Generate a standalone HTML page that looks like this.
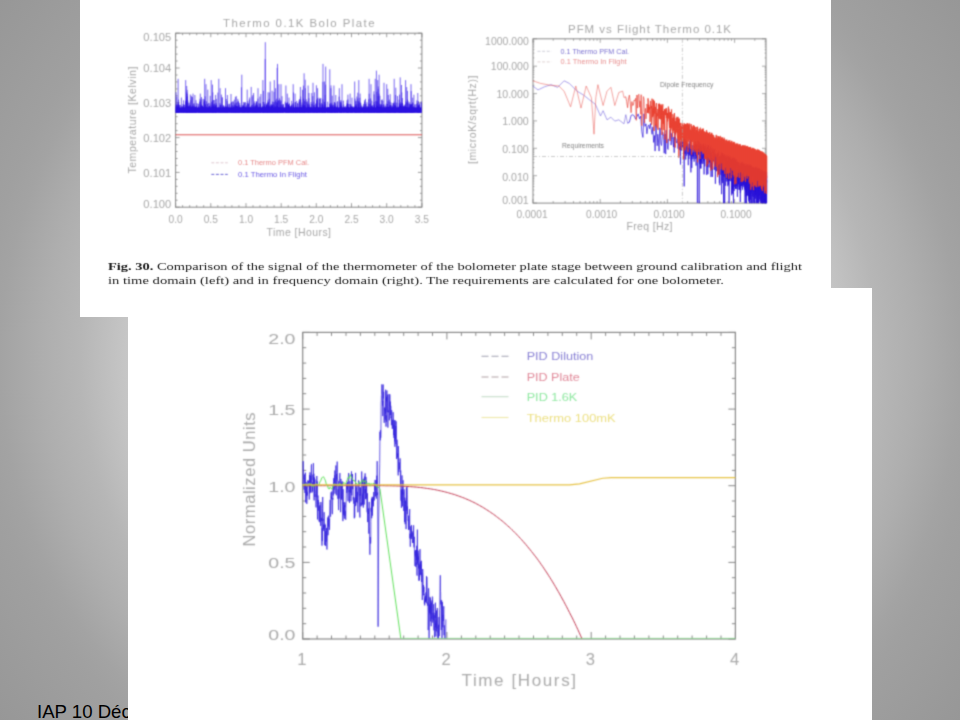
<!DOCTYPE html>
<html lang="fr">
<head>
<meta charset="utf-8">
<title>IAP 10 Déc</title>
<style>
html,body{margin:0;padding:0;}
body{width:960px;height:720px;overflow:hidden;position:relative;
  font-family:"Liberation Sans",sans-serif;
  background:radial-gradient(circle 600px at 480px 360px, #e6e6e6 0px, #d6d6d6 300px, #c4c4c4 359px, #b6b6b6 400px, #aeaeae 437px, #a3a3a3 480px, #a0a0a0 500px, #979797 600px);}
.box{position:absolute;background:#fff;}
#top{left:80px;top:0;width:751px;height:317px;}
#bot{left:128px;top:288px;width:744px;height:432px;}
#foot{position:absolute;left:37px;top:701.4px;width:91px;height:19px;overflow:hidden;white-space:nowrap;
  font-size:18.6px;line-height:22px;color:#000;}
svg{position:absolute;left:0;top:0;}
.cap{font-family:"Liberation Serif",serif;font-size:11.2px;fill:#1a1a1a;}
.cap b, .capb{font-weight:bold;}
.ax{font-family:"Liberation Sans",sans-serif;fill:#a8a8a8;}
.ax2{font-family:"Liberation Sans",sans-serif;fill:#aaaaaa;}
</style>
</head>
<body>
<div id="foot">IAP 10 Déc</div>
<div class="box" id="top"></div>
<div class="box" id="bot"></div>
<svg width="960" height="720" viewBox="0 0 960 720">

<defs>
<filter id="fs" filterUnits="userSpaceOnUse" x="0" y="0" width="960" height="720" color-interpolation-filters="sRGB"><feConvolveMatrix order="3" kernelMatrix="0.0400 0.1200 0.0400 0.1200 0.3600 0.1200 0.0400 0.1200 0.0400" divisor="1" edgeMode="none" preserveAlpha="false"/></filter>
<filter id="fc" filterUnits="userSpaceOnUse" x="0" y="0" width="960" height="720" color-interpolation-filters="sRGB"><feConvolveMatrix order="3" kernelMatrix="0.0121 0.0858 0.0121 0.0858 0.6084 0.0858 0.0121 0.0858 0.0121" divisor="1" edgeMode="none" preserveAlpha="false"/></filter>
<filter id="fb" filterUnits="userSpaceOnUse" x="0" y="0" width="960" height="720" color-interpolation-filters="sRGB"><feConvolveMatrix order="5" kernelMatrix="0.0001 0.0015 0.0046 0.0015 0.0001 0.0015 0.0396 0.1167 0.0396 0.0015 0.0046 0.1167 0.3441 0.1167 0.0046 0.0015 0.0396 0.1167 0.0396 0.0015 0.0001 0.0015 0.0046 0.0015 0.0001" divisor="1" edgeMode="none" preserveAlpha="false"/></filter>
</defs>
<g filter="url(#fs)">
<rect x="175.6" y="33.2" width="246.3" height="174.0" fill="none" stroke="#888888" stroke-width="1"/>
<path d="M175.6,207.2v-4M175.6,33.2v4M182.6,207.2v-2M182.6,33.2v2M189.7,207.2v-2M189.7,33.2v2M196.7,207.2v-2M196.7,33.2v2M203.7,207.2v-2M203.7,33.2v2M210.8,207.2v-4M210.8,33.2v4M217.8,207.2v-2M217.8,33.2v2M224.9,207.2v-2M224.9,33.2v2M231.9,207.2v-2M231.9,33.2v2M238.9,207.2v-2M238.9,33.2v2M246.0,207.2v-4M246.0,33.2v4M253.0,207.2v-2M253.0,33.2v2M260.0,207.2v-2M260.0,33.2v2M267.1,207.2v-2M267.1,33.2v2M274.1,207.2v-2M274.1,33.2v2M281.2,207.2v-4M281.2,33.2v4M288.2,207.2v-2M288.2,33.2v2M295.2,207.2v-2M295.2,33.2v2M302.3,207.2v-2M302.3,33.2v2M309.3,207.2v-2M309.3,33.2v2M316.3,207.2v-4M316.3,33.2v4M323.4,207.2v-2M323.4,33.2v2M330.4,207.2v-2M330.4,33.2v2M337.5,207.2v-2M337.5,33.2v2M344.5,207.2v-2M344.5,33.2v2M351.5,207.2v-4M351.5,33.2v4M358.6,207.2v-2M358.6,33.2v2M365.6,207.2v-2M365.6,33.2v2M372.6,207.2v-2M372.6,33.2v2M379.7,207.2v-2M379.7,33.2v2M386.7,207.2v-4M386.7,33.2v4M393.8,207.2v-2M393.8,33.2v2M400.8,207.2v-2M400.8,33.2v2M407.8,207.2v-2M407.8,33.2v2M414.9,207.2v-2M414.9,33.2v2M421.9,207.2v-4M421.9,33.2v4M175.6,207.2h4M421.9,207.2h-4M175.6,200.2h2M421.9,200.2h-2M175.6,193.3h2M421.9,193.3h-2M175.6,186.3h2M421.9,186.3h-2M175.6,179.4h2M421.9,179.4h-2M175.6,172.4h4M421.9,172.4h-4M175.6,165.4h2M421.9,165.4h-2M175.6,158.5h2M421.9,158.5h-2M175.6,151.5h2M421.9,151.5h-2M175.6,144.6h2M421.9,144.6h-2M175.6,137.6h4M421.9,137.6h-4M175.6,130.6h2M421.9,130.6h-2M175.6,123.7h2M421.9,123.7h-2M175.6,116.7h2M421.9,116.7h-2M175.6,109.8h2M421.9,109.8h-2M175.6,102.8h4M421.9,102.8h-4M175.6,95.8h2M421.9,95.8h-2M175.6,88.9h2M421.9,88.9h-2M175.6,81.9h2M421.9,81.9h-2M175.6,75.0h2M421.9,75.0h-2M175.6,68.0h4M421.9,68.0h-4M175.6,61.0h2M421.9,61.0h-2M175.6,54.1h2M421.9,54.1h-2M175.6,47.1h2M421.9,47.1h-2M175.6,40.2h2M421.9,40.2h-2M175.6,33.2h4M421.9,33.2h-4" stroke="#888888" stroke-width="0.8" fill="none"/>
<path d="M178.1,112.8V78.8M176.8,112.8V96.8M176.0,112.8V92.3M175.8,112.8V107.4M185.7,112.8V80.1M187.2,112.8V93.8M186.8,112.8V92.3M186.8,112.8V97.6M193.0,112.8V93.6M192.3,112.8V106.6M194.9,112.8V95.0M195.5,112.8V107.4M200.3,112.8V93.6M200.0,112.8V98.8M204.7,112.8V78.8M204.0,112.8V99.1M206.0,112.8V84.2M205.1,112.8V96.3M211.2,112.8V80.1M212.5,112.8V84.6M212.8,112.8V92.3M213.1,112.8V107.4M218.8,112.8V78.8M217.9,112.8V92.6M220.1,112.8V88.2M221.4,112.8V94.6M225.5,112.8V88.2M225.6,112.8V105.7M227.4,112.8V95.0M228.0,112.8V107.4M237.2,112.8V101.8M236.2,112.8V107.4M241.8,112.8V74.7M241.4,112.8V87.3M247.2,112.8V89.6M246.8,112.8V107.4M251.2,112.8V86.9M252.1,112.8V96.5M252.9,112.8V95.0M253.1,112.8V104.0M258.0,112.8V88.2M257.9,112.8V98.6M262.9,112.8V80.1M263.4,112.8V90.8M265.3,112.8V42.2M265.2,112.8V59.1M268.0,112.8V92.3M267.8,112.8V107.4M270.2,112.8V81.5M269.2,112.8V98.8M274.3,112.8V80.1M274.0,112.8V91.8M275.6,112.8V88.2M276.1,112.8V101.6M277.5,112.8V63.9M277.2,112.8V67.9M278.9,112.8V84.2M277.6,112.8V100.9M281.0,112.8V84.2M281.1,112.8V100.7M285.9,112.8V85.5M287.4,112.8V101.8M287.3,112.8V93.6M285.8,112.8V103.2M293.2,112.8V84.2M293.5,112.8V92.4M295.1,112.8V93.6M296.6,112.8V107.4M299.5,112.8V99.1M300.6,112.8V107.4M304.1,112.8V73.3M305.2,112.8V79.7M305.4,112.8V88.2M304.8,112.8V100.6M308.1,112.8V85.5M308.9,112.8V98.3M313.0,112.8V82.8M311.8,112.8V93.0M314.4,112.8V92.3M313.8,112.8V101.7M317.6,112.8V88.2M316.5,112.8V99.7M323.0,112.8V63.9M322.9,112.8V81.8M324.4,112.8V81.5M325.3,112.8V94.9M325.7,112.8V66.6M325.6,112.8V84.6M329.8,112.8V69.3M331.0,112.8V85.4M330.9,112.8V88.2M331.8,112.8V107.4M333.9,112.8V85.5M332.4,112.8V105.3M335.8,112.8V95.0M335.0,112.8V107.4M339.3,112.8V88.2M340.2,112.8V105.1M342.0,112.8V84.2M340.9,112.8V100.0M350.1,112.8V93.6M348.7,112.8V104.1M352.0,112.8V97.7M353.0,112.8V107.4M354.7,112.8V81.5M355.0,112.8V98.6M358.8,112.8V80.1M359.8,112.8V97.8M360.1,112.8V93.6M358.5,112.8V105.2M364.5,112.8V101.8M364.3,112.8V106.8M369.1,112.8V78.8M369.2,112.8V93.7M371.0,112.8V84.2M372.0,112.8V105.1M376.4,112.8V70.6M375.2,112.8V78.8M377.7,112.8V80.1M378.2,112.8V86.5M379.1,112.8V74.7M378.2,112.8V89.0M384.0,112.8V82.8M382.9,112.8V100.9M386.7,112.8V84.2M387.8,112.8V88.8M388.3,112.8V95.0M388.4,112.8V107.4M394.2,112.8V78.8M395.8,112.8V87.7M395.6,112.8V95.0M394.5,112.8V107.4M400.2,112.8V77.4M401.5,112.8V85.0M401.8,112.8V92.3M401.6,112.8V107.4M405.6,112.8V80.1M406.7,112.8V87.1M407.5,112.8V90.9M408.0,112.8V107.4M411.0,112.8V84.2M411.2,112.8V91.1M412.7,112.8V97.7M411.2,112.8V106.8" stroke="#4028ea" stroke-width="1.0" fill="none" opacity="0.7"/>
<path d="M374.3,112.8V104.8M187.1,112.8V102.3M178.1,112.8V106.5M264.8,112.8V107.2M191.7,112.8V107.3M212.8,112.8V106.8M181.8,112.8V106.4M304.8,112.8V101.5M347.0,112.8V105.2M280.9,112.8V104.6M209.1,112.8V106.0M257.4,112.8V106.1M320.9,112.8V104.5M406.8,112.8V102.5M419.6,112.8V106.7M235.4,112.8V105.3M178.7,112.8V103.7M379.9,112.8V95.8M403.4,112.8V106.3M288.6,112.8V105.6M365.3,112.8V104.4M388.6,112.8V106.8M325.6,112.8V104.0M390.2,112.8V94.2M182.0,112.8V106.3M242.7,112.8V105.0M244.1,112.8V106.9M205.7,112.8V104.8M399.5,112.8V94.6M183.6,112.8V104.6M341.1,112.8V106.5M193.6,112.8V106.1M264.6,112.8V103.9M278.7,112.8V100.4M220.6,112.8V105.2M303.9,112.8V105.0M307.3,112.8V101.4M253.9,112.8V107.0M356.9,112.8V96.5M215.4,112.8V105.1M223.3,112.8V105.9M263.1,112.8V102.0M268.9,112.8V106.3M226.7,112.8V106.8M401.5,112.8V106.3M379.2,112.8V103.4M202.3,112.8V107.0M266.7,112.8V105.2M233.2,112.8V106.4M286.7,112.8V104.6M243.9,112.8V106.9M299.2,112.8V102.0M402.4,112.8V98.1M269.9,112.8V106.0M335.6,112.8V105.8M322.2,112.8V104.1M360.6,112.8V102.6M191.2,112.8V107.2M358.8,112.8V103.4M408.2,112.8V101.3M324.2,112.8V101.7M246.6,112.8V105.3M341.0,112.8V101.2M350.8,112.8V104.5M337.1,112.8V106.7M212.1,112.8V106.2M414.9,112.8V104.2M410.5,112.8V104.5M280.3,112.8V101.6M321.7,112.8V102.9M185.8,112.8V106.5M418.6,112.8V105.6M376.9,112.8V102.0M332.2,112.8V105.2M362.8,112.8V106.5M222.2,112.8V97.4M251.6,112.8V105.3M236.5,112.8V106.1M322.3,112.8V104.8M198.6,112.8V106.1M395.8,112.8V106.3M289.5,112.8V103.5M285.2,112.8V101.7M201.8,112.8V105.5M344.1,112.8V106.8M376.5,112.8V105.1M330.5,112.8V105.6M235.5,112.8V105.3M368.8,112.8V106.4M211.8,112.8V102.1M379.0,112.8V106.6M318.5,112.8V107.3M247.1,112.8V103.1M302.0,112.8V102.5M330.4,112.8V106.4M239.5,112.8V106.7M383.8,112.8V104.3M279.4,112.8V98.3M395.0,112.8V106.3M381.0,112.8V104.6M200.5,112.8V106.3M334.6,112.8V102.5M252.3,112.8V105.1M361.1,112.8V105.7M309.2,112.8V103.6M288.3,112.8V104.7M395.7,112.8V106.6M190.1,112.8V105.5M312.8,112.8V96.1M256.5,112.8V101.6M184.8,112.8V104.8M360.9,112.8V103.5M313.9,112.8V106.8M395.4,112.8V105.5M322.9,112.8V99.3M258.8,112.8V106.6M417.8,112.8V93.0M204.5,112.8V100.6M189.0,112.8V103.2M355.8,112.8V105.7M267.1,112.8V107.1M264.8,112.8V106.1M391.1,112.8V102.5M256.4,112.8V105.4M394.2,112.8V101.6M334.1,112.8V106.5M256.8,112.8V101.2M190.7,112.8V100.3M236.2,112.8V102.8M413.7,112.8V106.6M275.5,112.8V106.5M215.4,112.8V107.2M249.2,112.8V107.2M396.8,112.8V102.6M216.6,112.8V105.0M366.9,112.8V102.2M209.2,112.8V106.2M411.9,112.8V105.9M306.2,112.8V99.3M186.7,112.8V86.0M404.5,112.8V107.0M264.0,112.8V102.0M355.5,112.8V104.5M304.6,112.8V107.4M198.8,112.8V103.9M202.1,112.8V106.2M212.7,112.8V105.8M215.6,112.8V94.9M189.0,112.8V102.5M187.6,112.8V107.2M408.7,112.8V103.3M198.5,112.8V107.4M300.8,112.8V99.6M205.2,112.8V104.1M228.8,112.8V103.8M363.3,112.8V107.3M406.2,112.8V107.1M291.3,112.8V104.7M177.5,112.8V105.7M421.2,112.8V101.3M187.8,112.8V106.2M271.6,112.8V105.6M308.3,112.8V106.9M394.8,112.8V104.9M378.0,112.8V96.2M325.6,112.8V106.3M273.9,112.8V101.8M380.8,112.8V106.8M389.3,112.8V99.6M390.0,112.8V104.8M352.1,112.8V106.9M200.1,112.8V101.9M249.3,112.8V99.5M295.3,112.8V106.8M300.0,112.8V107.0M380.4,112.8V106.4M234.4,112.8V104.8M339.1,112.8V96.6M267.9,112.8V100.3M366.3,112.8V106.0M224.1,112.8V107.3M293.0,112.8V104.1M201.5,112.8V104.3M228.1,112.8V106.4M405.5,112.8V104.1M253.6,112.8V93.0M395.1,112.8V106.8M304.7,112.8V106.0M185.7,112.8V100.6M370.6,112.8V106.8M188.8,112.8V106.9M378.9,112.8V106.7M178.3,112.8V102.1M341.5,112.8V106.9M216.7,112.8V107.1M260.2,112.8V103.9M409.8,112.8V102.2M295.4,112.8V102.3M337.4,112.8V105.4M357.8,112.8V98.5M203.1,112.8V106.8M381.9,112.8V105.3M400.3,112.8V105.7M214.2,112.8V104.6M310.1,112.8V106.6M245.6,112.8V106.8M357.8,112.8V92.7M183.0,112.8V106.1M301.8,112.8V104.9M370.6,112.8V98.5M356.3,112.8V106.1M202.6,112.8V105.8M380.4,112.8V104.4M234.4,112.8V107.1M374.3,112.8V107.3M298.0,112.8V103.8M215.6,112.8V105.7M356.2,112.8V107.1M374.3,112.8V106.2M347.5,112.8V103.1M412.8,112.8V102.3M238.9,112.8V104.9M233.9,112.8V106.5M212.2,112.8V100.8M308.4,112.8V106.6M274.1,112.8V102.3M263.6,112.8V106.8M289.0,112.8V97.6M243.4,112.8V102.1M177.1,112.8V104.9M291.8,112.8V105.3M243.8,112.8V104.3M286.4,112.8V103.5M404.0,112.8V104.5M220.0,112.8V103.1M332.5,112.8V107.1M334.2,112.8V105.5M245.1,112.8V102.4M291.6,112.8V105.3M413.9,112.8V94.7M260.1,112.8V104.7M350.8,112.8V106.1M382.2,112.8V99.4M264.6,112.8V105.4M418.9,112.8V104.6M329.6,112.8V103.7M299.0,112.8V100.4M351.5,112.8V106.6M280.1,112.8V99.9M350.8,112.8V104.3M243.5,112.8V105.8M403.5,112.8V105.9M309.0,112.8V93.0M235.4,112.8V96.8M283.3,112.8V104.6M395.7,112.8V105.9M374.1,112.8V94.3M294.9,112.8V107.3M262.4,112.8V107.2M268.4,112.8V105.0M416.8,112.8V104.2M203.6,112.8V107.4M394.2,112.8V106.7M386.5,112.8V107.1M231.1,112.8V106.4M261.8,112.8V106.7M315.8,112.8V106.9M372.9,112.8V106.9M409.2,112.8V105.7M419.4,112.8V106.9M245.1,112.8V102.1M223.3,112.8V105.5M295.7,112.8V107.0M312.9,112.8V103.6M337.2,112.8V101.8M202.5,112.8V105.8M334.7,112.8V107.4M402.1,112.8V103.6M400.6,112.8V102.4M407.6,112.8V99.5M402.3,112.8V102.9M411.8,112.8V104.1M188.0,112.8V105.9M400.8,112.8V106.4M242.6,112.8V107.2M254.8,112.8V101.2M288.6,112.8V104.4M410.4,112.8V106.2M324.5,112.8V106.9M262.6,112.8V106.2M267.9,112.8V102.3M398.1,112.8V106.5M377.8,112.8V107.2M209.8,112.8V105.7M237.1,112.8V105.9M267.3,112.8V103.1M229.3,112.8V104.5M314.3,112.8V105.1M231.0,112.8V94.0M317.1,112.8V100.7M405.7,112.8V106.9M384.3,112.8V106.4M200.4,112.8V105.4M226.9,112.8V107.1M277.3,112.8V102.3M334.6,112.8V102.1M270.9,112.8V106.2M237.8,112.8V98.9M260.6,112.8V104.5M226.1,112.8V106.5M387.5,112.8V103.9M347.1,112.8V103.4M276.9,112.8V102.8M347.9,112.8V94.6M303.6,112.8V98.6M305.2,112.8V105.5M266.2,112.8V105.4M295.9,112.8V107.3M417.8,112.8V105.5M368.5,112.8V106.7M379.1,112.8V106.9M206.6,112.8V101.3M299.8,112.8V107.3M266.1,112.8V106.9M197.9,112.8V103.5M273.1,112.8V104.4M194.3,112.8V105.4M233.5,112.8V101.5M372.0,112.8V106.4M344.4,112.8V106.6M347.5,112.8V104.8M195.6,112.8V107.0M216.3,112.8V103.2M181.4,112.8V97.6M200.0,112.8V101.4M200.9,112.8V99.7M411.6,112.8V107.1M395.4,112.8V105.4M226.2,112.8V99.0M238.4,112.8V100.8M411.8,112.8V104.2M315.9,112.8V103.6M266.5,112.8V106.3M290.5,112.8V106.3M242.9,112.8V107.2M319.3,112.8V99.0M354.0,112.8V106.2M302.5,112.8V89.8M377.4,112.8V107.4M203.9,112.8V101.6M324.2,112.8V104.7M418.8,112.8V107.2M212.7,112.8V103.5M297.5,112.8V103.0M330.7,112.8V103.1M258.9,112.8V103.1M412.7,112.8V103.3M295.2,112.8V102.1M293.5,112.8V105.7M397.5,112.8V96.0M180.0,112.8V105.0M389.2,112.8V106.3M207.8,112.8V89.6M269.1,112.8V106.2M295.9,112.8V105.3M293.0,112.8V103.1M185.8,112.8V101.6M253.9,112.8V106.0M263.6,112.8V107.3M410.7,112.8V104.3M401.0,112.8V104.2M319.4,112.8V102.7M405.1,112.8V106.3M388.0,112.8V101.2M268.3,112.8V102.0M204.8,112.8V100.3M325.0,112.8V102.3M255.3,112.8V103.4M178.5,112.8V104.5M416.8,112.8V100.4M413.9,112.8V106.5M307.8,112.8V103.5M327.7,112.8V101.7M340.2,112.8V102.0M403.4,112.8V106.9M290.8,112.8V106.0M319.1,112.8V97.7M231.7,112.8V102.0M235.6,112.8V106.8M304.2,112.8V105.0M232.3,112.8V101.4M183.5,112.8V100.3M266.5,112.8V104.8M360.1,112.8V107.0M244.1,112.8V106.5M387.7,112.8V107.3M348.4,112.8V106.7M336.4,112.8V107.2M395.0,112.8V103.1M194.2,112.8V103.1M220.0,112.8V105.3M399.1,112.8V99.7M398.6,112.8V106.8M195.3,112.8V106.6M366.0,112.8V104.0M179.9,112.8V104.7M209.3,112.8V106.9M203.0,112.8V98.9M248.2,112.8V103.9M271.3,112.8V104.0M399.5,112.8V105.7M283.1,112.8V104.0M206.5,112.8V107.1M242.9,112.8V106.1M177.7,112.8V103.8M183.0,112.8V104.1M281.8,112.8V104.7M301.7,112.8V107.2M237.4,112.8V106.0M269.3,112.8V92.4M201.5,112.8V97.1M337.7,112.8V101.2M272.4,112.8V107.2M215.7,112.8V107.1M298.1,112.8V106.5M227.2,112.8V101.1M247.8,112.8V106.6M206.6,112.8V106.5M367.6,112.8V106.3M244.6,112.8V102.6M410.5,112.8V104.7M275.6,112.8V100.3M214.2,112.8V107.1M349.1,112.8V107.2M356.0,112.8V100.7M392.3,112.8V107.0M208.4,112.8V102.9M369.9,112.8V104.1M387.0,112.8V106.6M250.8,112.8V106.3M287.6,112.8V102.6M328.1,112.8V107.3M236.3,112.8V96.2M389.8,112.8V107.2M347.6,112.8V106.8M386.2,112.8V103.7M286.5,112.8V107.0M303.4,112.8V85.6M223.8,112.8V105.4M253.1,112.8V107.1M355.0,112.8V106.8M411.3,112.8V104.6M213.4,112.8V100.0M188.5,112.8V106.3M192.6,112.8V105.6M282.9,112.8V104.4M370.5,112.8V103.6M231.3,112.8V102.8M293.1,112.8V106.0M302.5,112.8V105.7M381.6,112.8V100.0M216.3,112.8V98.9M179.7,112.8V105.5M300.4,112.8V87.0M263.2,112.8V106.7M247.8,112.8V101.2M365.5,112.8V98.8M343.8,112.8V104.4M196.7,112.8V103.2M310.5,112.8V107.2M371.8,112.8V100.7M399.2,112.8V103.3M176.1,112.8V104.3M374.2,112.8V104.3M186.7,112.8V106.8M343.4,112.8V100.6M322.8,112.8V104.7M409.6,112.8V104.0M331.1,112.8V106.7M193.3,112.8V103.8M340.5,112.8V106.4M238.6,112.8V102.2M380.2,112.8V107.3M183.8,112.8V106.9M255.6,112.8V106.5M342.0,112.8V105.6M214.3,112.8V100.0M334.6,112.8V107.4M347.1,112.8V104.5M356.1,112.8V107.3M390.8,112.8V105.7M277.4,112.8V106.1M211.1,112.8V106.8M240.0,112.8V105.1M271.7,112.8V105.9M189.5,112.8V106.3M349.9,112.8V104.0M191.6,112.8V106.4M190.3,112.8V94.5M404.8,112.8V106.4M373.9,112.8V91.3M238.3,112.8V106.8M259.9,112.8V96.6M378.7,112.8V107.2M328.0,112.8V107.4M241.1,112.8V107.0M286.2,112.8V103.0M386.0,112.8V106.4M176.3,112.8V106.2M419.5,112.8V103.4M314.9,112.8V107.3M220.7,112.8V104.6M372.4,112.8V105.6M194.8,112.8V106.8M276.7,112.8V98.7M316.7,112.8V105.8M236.7,112.8V106.2M393.2,112.8V103.1M347.0,112.8V100.4M215.8,112.8V106.5M213.5,112.8V106.9M191.3,112.8V95.8M316.3,112.8V105.4M222.0,112.8V104.6M309.3,112.8V105.2M377.1,112.8V101.1M391.8,112.8V105.4M204.6,112.8V102.3M257.6,112.8V104.7M278.5,112.8V107.1M270.2,112.8V104.8M278.8,112.8V100.4M288.9,112.8V104.7M361.7,112.8V105.6M251.0,112.8V107.3M260.3,112.8V103.1M271.8,112.8V105.6M213.2,112.8V106.0M330.7,112.8V105.7M274.3,112.8V105.5M400.8,112.8V105.9M377.6,112.8V106.2M232.6,112.8V105.2M235.5,112.8V107.2M368.0,112.8V106.5M313.4,112.8V105.3M178.6,112.8V99.6M330.6,112.8V105.4M273.0,112.8V104.5M368.7,112.8V99.3M359.3,112.8V101.5M402.3,112.8V102.9M347.6,112.8V103.9M400.1,112.8V104.1M245.9,112.8V106.6M259.2,112.8V106.9M190.6,112.8V107.2M388.8,112.8V107.0M213.9,112.8V104.0M311.3,112.8V104.0M301.0,112.8V107.3M375.8,112.8V100.8M271.3,112.8V105.3M211.1,112.8V104.6M270.1,112.8V107.1M187.9,112.8V100.4M250.1,112.8V107.1M330.6,112.8V106.5M190.1,112.8V105.1M418.9,112.8V104.9M307.6,112.8V104.7M249.7,112.8V97.5M380.6,112.8V107.3M209.8,112.8V103.3M255.1,112.8V105.4M406.0,112.8V101.4M235.0,112.8V103.4M355.9,112.8V101.4M196.0,112.8V100.2M306.7,112.8V101.9M337.5,112.8V106.9M227.5,112.8V104.6M256.5,112.8V102.1M311.1,112.8V102.0M320.8,112.8V98.0M213.9,112.8V105.5M276.9,112.8V107.4M421.3,112.8V102.7M255.2,112.8V106.2M368.7,112.8V103.6M225.6,112.8V107.2M289.2,112.8V105.8M303.2,112.8V103.8M322.3,112.8V106.9M352.1,112.8V106.0M371.3,112.8V106.8M347.9,112.8V99.4M374.1,112.8V102.0M393.4,112.8V103.7M256.1,112.8V104.8M379.0,112.8V93.7M303.7,112.8V106.3M239.7,112.8V103.0M218.6,112.8V107.1M363.6,112.8V103.9M332.3,112.8V106.6M193.5,112.8V107.4M320.2,112.8V98.8M187.0,112.8V106.2M272.1,112.8V90.7M316.2,112.8V103.3M335.6,112.8V103.4M214.8,112.8V103.4M187.1,112.8V89.9M317.4,112.8V106.5M376.9,112.8V91.6M371.5,112.8V106.0M264.3,112.8V107.0M317.6,112.8V98.2M352.4,112.8V107.0M390.3,112.8V105.1M296.7,112.8V100.9M390.9,112.8V106.2M254.0,112.8V102.8M229.9,112.8V103.7M248.2,112.8V103.2M355.1,112.8V106.8M393.2,112.8V103.0M291.7,112.8V100.8M346.8,112.8V106.9M210.2,112.8V95.8M300.6,112.8V96.5M282.8,112.8V106.0M282.0,112.8V96.2M222.2,112.8V97.4M328.9,112.8V107.0M341.0,112.8V102.5M332.2,112.8V95.6M358.3,112.8V101.2M288.5,112.8V106.9M385.2,112.8V105.5M316.2,112.8V104.4M392.4,112.8V105.7M276.7,112.8V105.6M347.8,112.8V107.0M224.4,112.8V107.4M196.5,112.8V106.1M404.6,112.8V105.4M267.1,112.8V104.3M187.3,112.8V96.2M327.8,112.8V107.1M405.0,112.8V105.9M364.7,112.8V100.1M418.3,112.8V101.1M405.5,112.8V107.0M287.8,112.8V103.3M233.5,112.8V107.1M192.1,112.8V96.9M242.9,112.8V106.3M331.2,112.8V104.0M399.5,112.8V105.1M176.5,112.8V104.8M376.6,112.8V106.5M363.6,112.8V105.8M345.6,112.8V106.2M207.5,112.8V104.0M189.2,112.8V105.4M356.8,112.8V104.2M333.4,112.8V104.6M266.8,112.8V103.5M260.9,112.8V94.0M184.1,112.8V104.7M419.8,112.8V104.6M381.3,112.8V104.0M415.1,112.8V104.5M376.8,112.8V105.5M288.7,112.8V106.4M383.4,112.8V104.6M224.8,112.8V106.4M341.1,112.8V103.5M234.3,112.8V99.6M272.4,112.8V101.6M389.9,112.8V101.8M280.3,112.8V106.5M395.3,112.8V107.3M323.2,112.8V106.6M248.2,112.8V104.4M240.0,112.8V106.9M176.9,112.8V107.0M316.4,112.8V85.3M381.8,112.8V105.8M231.2,112.8V107.2M293.7,112.8V104.8M417.4,112.8V103.1M272.6,112.8V105.2M406.3,112.8V106.9M378.9,112.8V104.8M297.4,112.8V107.1M332.0,112.8V102.7M192.2,112.8V97.3" stroke="#2a10e0" stroke-width="0.8" fill="none" opacity="0.8"/>
<rect x="176.1" y="107.4" width="245.3" height="5.4" fill="#2a10e0"/>
<path d="M175.6,134.8H421.9" stroke="#d84040" stroke-width="0.9" fill="none"/>
<path d="M211.3,162.8h16.5" stroke="#dcc4cc" stroke-width="0.9" stroke-dasharray="3 1.6" fill="none"/>
<path d="M211.3,174.4h16.5" stroke="#5a54d0" stroke-width="0.9" stroke-dasharray="3 1.6" fill="none"/>
<text x="238" y="165" font-size="7" fill="#e68888" textLength="71" lengthAdjust="spacingAndGlyphs" font-family="Liberation Sans, sans-serif">0.1 Thermo PFM Cal.</text>
<text x="238" y="176.8" font-size="7" fill="#6a5ae4" textLength="69" lengthAdjust="spacingAndGlyphs" font-family="Liberation Sans, sans-serif">0.1 Thermo In Flight</text>
<text class="ax" x="223" y="27.2" font-size="11.4" textLength="151.5" lengthAdjust="spacing">Thermo 0.1K Bolo Plate</text>
<text class="ax" x="143.3" y="40.5" font-size="10.2" textLength="28" lengthAdjust="spacingAndGlyphs">0.105</text>
<text class="ax" x="143.3" y="72.4" font-size="10.2" textLength="28" lengthAdjust="spacingAndGlyphs">0.104</text>
<text class="ax" x="143.3" y="106.9" font-size="10.2" textLength="28" lengthAdjust="spacingAndGlyphs">0.103</text>
<text class="ax" x="143.3" y="141.7" font-size="10.2" textLength="28" lengthAdjust="spacingAndGlyphs">0.102</text>
<text class="ax" x="143.3" y="176.7" font-size="10.2" textLength="28" lengthAdjust="spacingAndGlyphs">0.101</text>
<text class="ax" x="143.3" y="208.1" font-size="10.2" textLength="28" lengthAdjust="spacingAndGlyphs">0.100</text>
<text class="ax" x="175.6" y="222.5" font-size="10.2" text-anchor="middle">0.0</text>
<text class="ax" x="210.8" y="222.5" font-size="10.2" text-anchor="middle">0.5</text>
<text class="ax" x="246.0" y="222.5" font-size="10.2" text-anchor="middle">1.0</text>
<text class="ax" x="281.2" y="222.5" font-size="10.2" text-anchor="middle">1.5</text>
<text class="ax" x="316.3" y="222.5" font-size="10.2" text-anchor="middle">2.0</text>
<text class="ax" x="351.5" y="222.5" font-size="10.2" text-anchor="middle">2.5</text>
<text class="ax" x="386.7" y="222.5" font-size="10.2" text-anchor="middle">3.0</text>
<text class="ax" x="421.9" y="222.5" font-size="10.2" text-anchor="middle">3.5</text>
<text class="ax" x="266.5" y="236" font-size="10.5" textLength="64.5" lengthAdjust="spacing">Time [Hours]</text>
<text class="ax" transform="translate(135.5,173.6) rotate(-90)" font-size="10.5" textLength="107" lengthAdjust="spacing">Temperature [Kelvin]</text>
</g>
<g filter="url(#fs)">
<rect x="533.0" y="38.8" width="233.0" height="164.3" fill="none" stroke="#888888" stroke-width="1"/>
<path d="M533.0,203.1v-4M533.0,38.8v4M553.2,203.1v-2M553.2,38.8v2M565.1,203.1v-2M565.1,38.8v2M573.5,203.1v-2M573.5,38.8v2M580.0,203.1v-2M580.0,38.8v2M585.3,203.1v-2M585.3,38.8v2M589.8,203.1v-2M589.8,38.8v2M593.7,203.1v-2M593.7,38.8v2M597.1,203.1v-2M597.1,38.8v2M600.2,203.1v-4M600.2,38.8v4M620.4,203.1v-2M620.4,38.8v2M632.3,203.1v-2M632.3,38.8v2M640.7,203.1v-2M640.7,38.8v2M647.2,203.1v-2M647.2,38.8v2M652.5,203.1v-2M652.5,38.8v2M657.0,203.1v-2M657.0,38.8v2M660.9,203.1v-2M660.9,38.8v2M664.3,203.1v-2M664.3,38.8v2M667.4,203.1v-4M667.4,38.8v4M687.6,203.1v-2M687.6,38.8v2M699.5,203.1v-2M699.5,38.8v2M707.9,203.1v-2M707.9,38.8v2M714.4,203.1v-2M714.4,38.8v2M719.7,203.1v-2M719.7,38.8v2M724.2,203.1v-2M724.2,38.8v2M728.1,203.1v-2M728.1,38.8v2M731.5,203.1v-2M731.5,38.8v2M734.6,203.1v-4M734.6,38.8v4M754.8,203.1v-2M754.8,38.8v2M533.0,203.1h4M766.0,203.1h-4M533.0,194.9h1.3M766.0,194.9h-1.3M533.0,190.0h1.3M766.0,190.0h-1.3M533.0,186.6h1.3M766.0,186.6h-1.3M533.0,184.0h1.3M766.0,184.0h-1.3M533.0,181.8h1.3M766.0,181.8h-1.3M533.0,180.0h1.3M766.0,180.0h-1.3M533.0,178.4h1.3M766.0,178.4h-1.3M533.0,177.0h1.3M766.0,177.0h-1.3M533.0,175.7h4M766.0,175.7h-4M533.0,167.5h1.3M766.0,167.5h-1.3M533.0,162.7h1.3M766.0,162.7h-1.3M533.0,159.2h1.3M766.0,159.2h-1.3M533.0,156.6h1.3M766.0,156.6h-1.3M533.0,154.4h1.3M766.0,154.4h-1.3M533.0,152.6h1.3M766.0,152.6h-1.3M533.0,151.0h1.3M766.0,151.0h-1.3M533.0,149.6h1.3M766.0,149.6h-1.3M533.0,148.3h4M766.0,148.3h-4M533.0,140.1h1.3M766.0,140.1h-1.3M533.0,135.3h1.3M766.0,135.3h-1.3M533.0,131.8h1.3M766.0,131.8h-1.3M533.0,129.2h1.3M766.0,129.2h-1.3M533.0,127.0h1.3M766.0,127.0h-1.3M533.0,125.2h1.3M766.0,125.2h-1.3M533.0,123.6h1.3M766.0,123.6h-1.3M533.0,122.2h1.3M766.0,122.2h-1.3M533.0,120.9h4M766.0,120.9h-4M533.0,112.7h1.3M766.0,112.7h-1.3M533.0,107.9h1.3M766.0,107.9h-1.3M533.0,104.5h1.3M766.0,104.5h-1.3M533.0,101.8h1.3M766.0,101.8h-1.3M533.0,99.6h1.3M766.0,99.6h-1.3M533.0,97.8h1.3M766.0,97.8h-1.3M533.0,96.2h1.3M766.0,96.2h-1.3M533.0,94.8h1.3M766.0,94.8h-1.3M533.0,93.6h4M766.0,93.6h-4M533.0,85.3h1.3M766.0,85.3h-1.3M533.0,80.5h1.3M766.0,80.5h-1.3M533.0,77.1h1.3M766.0,77.1h-1.3M533.0,74.4h1.3M766.0,74.4h-1.3M533.0,72.3h1.3M766.0,72.3h-1.3M533.0,70.4h1.3M766.0,70.4h-1.3M533.0,68.8h1.3M766.0,68.8h-1.3M533.0,67.4h1.3M766.0,67.4h-1.3M533.0,66.2h4M766.0,66.2h-4M533.0,57.9h1.3M766.0,57.9h-1.3M533.0,53.1h1.3M766.0,53.1h-1.3M533.0,49.7h1.3M766.0,49.7h-1.3M533.0,47.0h1.3M766.0,47.0h-1.3M533.0,44.9h1.3M766.0,44.9h-1.3M533.0,43.0h1.3M766.0,43.0h-1.3M533.0,41.5h1.3M766.0,41.5h-1.3M533.0,40.1h1.3M766.0,40.1h-1.3M533.0,38.8h4M766.0,38.8h-4" stroke="#888888" stroke-width="0.7" fill="none"/>
<polyline points="532.8,86.0 538.0,89.9 544.5,86.8 551.0,84.7 557.6,87.3 564.1,80.8 569.3,83.4 577.1,91.2 583.6,95.1 590.1,100.3 595.3,104.2 600.5,115.9 603.1,110.7 607.0,119.8 610.9,117.2 614.8,121.1 618.8,119.8 624.0,123.8 625.8,114.7 627.6,123.2" fill="none" stroke="#5a4ad8" stroke-width="0.6" stroke-linejoin="round" opacity="0.85"/>
<polyline points="627.6,123.2 629.4,122.2 631.1,115.4 632.6,114.8 634.1,115.7 635.6,119.1 636.9,116.7 638.2,113.9 639.5,118.8 640.7,116.1 641.8,131.6 642.9,137.4 644.0,113.8 645.0,126.3 646.0,123.9 646.9,133.8 647.9,126.5 648.8,124.9 649.6,128.7 650.5,123.6 651.3,129.9 652.1,134.3 652.9,126.9 653.6,142.4 654.4,135.5 655.1,151.1 655.8,124.4 656.5,130.7 657.2,145.8 657.8,134.2 658.5,141.0 659.1,151.1 659.7,127.9 660.3,129.4 660.9,143.5 661.5,145.5 662.0,139.6 662.6,131.9 663.1,133.9 663.7,136.6 664.2,153.2 664.7,134.6 665.2,134.0 665.7,154.1 666.2,130.3 666.7,139.1 667.2,139.6 667.6,148.8 668.1,149.5 668.5,139.3 669.0,139.5 669.4,138.6 669.9,129.7 670.3,129.6 670.7,132.9 671.1,145.1 671.5,139.3 671.9,133.3 672.3,137.2 672.7,139.6 673.1,144.0 673.5,147.1 673.9,137.0 674.2,152.7 674.6,132.4 675.0,139.6 675.3,137.0 675.7,139.6 676.0,141.5 676.4,142.6 676.7,143.0 677.1,138.6 677.4,138.9 677.7,139.4 678.0,148.6 678.4,142.8 678.7,145.9 679.0,144.6 679.3,143.8 679.6,150.0 679.9,146.4 680.2,142.5 680.5,164.5 680.8,141.7 681.1,140.4 681.4,150.5 681.7,146.6 682.0,141.6 682.3,140.2 682.5,147.5 682.8,143.5 683.1,140.2 683.4,146.8 683.6,149.4 683.9,138.6 684.2,186.4 684.4,140.0 684.7,153.5 684.9,152.5 685.2,153.9 685.4,140.5 685.7,159.5 685.9,147.6 686.2,141.3 686.4,140.9 686.7,155.6 686.9,148.2 687.2,143.6 687.4,148.8 687.6,144.6 687.9,154.0 688.1,147.5 688.3,165.2 688.5,148.0 688.8,159.0 689.0,143.7 689.2,148.1 689.4,147.9 689.7,154.9 689.9,140.5 690.1,155.9 690.3,154.7 690.5,146.4 690.7,139.6 690.9,172.4 691.1,151.5 691.4,160.5 691.6,149.1 691.8,167.9 692.0,145.1 692.2,145.6 692.4,152.9 692.6,156.3 692.8,152.8 693.0,159.0 693.1,152.6 693.3,151.8 693.5,156.6 693.7,151.1 693.9,145.3 694.1,161.6 694.3,144.4 694.5,152.5 694.7,149.2 694.8,146.6 695.0,157.8 695.2,159.0 695.4,141.6 695.6,155.6 695.7,152.4 695.9,148.4 696.1,165.6 696.3,145.7 696.4,158.3 696.6,144.1 696.8,150.8 696.9,148.8 697.1,152.8 697.3,149.2 697.4,202.8 697.6,167.0 697.8,160.8 697.9,141.1 698.1,144.3 698.3,149.6 698.4,154.8 698.6,147.8 698.8,151.3 698.9,142.2 699.1,152.9 699.2,203.1 699.4,148.8 699.5,144.6 699.7,149.2 699.8,163.8 700.0,152.2 700.2,161.0 700.3,152.3 700.5,145.7 700.6,168.3 700.8,143.2 700.9,168.5 701.1,146.4 701.2,162.7 701.3,150.9 701.5,150.4 701.6,145.4 701.8,158.4 701.9,163.8 702.1,155.4 702.2,154.9 702.4,158.8 702.5,156.8 702.6,156.1 702.8,146.1 702.9,155.1 703.0,163.8 703.2,143.6 703.3,147.1 703.5,157.7 703.6,144.1 703.7,148.8 703.9,161.3 704.0,153.5 704.1,174.4 704.3,149.2 704.4,150.7 704.5,146.1 704.7,159.9 704.8,166.4 704.9,147.7 705.0,149.9 705.2,158.6 705.3,145.8 705.4,144.5 705.6,150.3 705.7,151.3 705.8,154.1 705.9,154.2 706.1,150.6 706.2,152.2 706.3,149.5 706.4,148.7 706.5,159.5 706.7,174.9 706.8,152.8 706.9,147.4 707.0,161.0 707.1,162.1 707.3,147.4 707.4,158.3 707.5,166.7 707.6,152.2 707.7,160.0 707.9,174.2 708.0,144.6 708.1,150.6 708.2,145.9 708.3,149.5 708.4,145.1 708.6,146.5 708.7,157.3 708.8,151.2 708.9,163.0 709.0,152.1 709.1,167.4 709.2,148.8 709.3,155.8 709.4,151.7 709.6,161.9 709.7,152.5 709.8,161.0 709.9,155.3 710.0,151.3 710.1,160.4 710.2,160.2 710.3,146.0 710.4,145.8 710.5,167.9 710.6,152.8 710.7,152.4 710.9,152.1 711.0,176.9 711.1,161.7 711.2,152.1 711.3,160.3 711.4,159.3 711.5,156.9 711.6,159.6 711.7,169.1 711.8,155.6 711.9,156.2 712.0,147.6 712.1,151.8 712.2,170.0 712.3,159.4 712.4,176.9 712.5,157.5 712.6,162.2 712.7,158.5 712.8,158.6 712.9,150.3 713.0,152.4 713.1,149.5 713.2,157.0 713.3,160.9 713.4,152.2 713.5,155.1 713.6,157.6 713.7,161.4 713.8,158.9 713.9,159.9 713.9,159.2 714.0,155.4 714.1,154.7 714.2,158.6 714.3,162.7 714.4,170.0 714.5,165.3 714.6,158.6 714.7,165.3 714.8,149.1 714.9,164.4 715.0,153.1 715.1,161.5 715.2,165.5 715.2,155.1 715.3,156.5 715.4,183.8 715.5,154.2 715.6,163.6 715.7,156.7 715.8,155.4 715.9,164.1 716.0,157.6 716.0,162.6 716.1,154.1 716.2,166.1 716.3,162.9 716.4,158.6 716.5,165.1 716.6,171.2 716.7,165.1 716.7,155.6 716.8,163.2 716.9,161.0 717.0,167.2 717.1,157.5 717.2,158.3 717.3,155.3 717.3,154.6 717.4,159.7 717.5,163.1 717.6,163.5 717.7,155.9 717.8,153.0 717.8,170.9 717.9,158.4 718.0,154.4 718.1,153.3 718.2,164.1 718.3,171.4 718.3,152.0 718.4,151.5 718.5,156.3 718.6,161.2 718.7,173.9 718.7,161.3 718.8,170.8 718.9,162.8 719.0,174.9 719.1,168.9 719.1,157.9 719.2,167.6 719.3,156.4 719.4,183.1 719.5,158.6 719.5,161.3 719.6,163.1 719.7,157.4 719.8,169.9 719.8,185.2 719.9,161.7 720.0,156.1 720.1,157.2 720.2,167.9 720.2,161.7 720.3,161.5 720.4,155.0 720.5,165.7 720.5,155.2 720.6,155.8 720.7,162.4 720.8,163.1 720.8,156.0 720.9,174.8 721.0,165.2 721.1,167.9 721.1,167.2 721.2,161.6 721.3,163.6 721.4,152.2 721.4,162.8 721.5,163.3 721.6,194.2 721.6,156.6 721.7,158.6 721.8,180.6 721.9,157.9 721.9,165.5 722.0,157.8 722.1,162.9 722.2,171.2 722.2,169.0 722.3,153.1 722.4,160.5 722.4,160.1 722.5,173.0 722.6,153.4 722.6,161.2 722.7,183.1 722.8,153.6 722.9,165.2 722.9,166.8 723.0,155.4 723.1,158.3 723.1,161.7 723.2,165.3 723.3,175.8 723.3,166.5 723.4,155.6 723.5,203.1 723.5,159.0 723.6,160.8 723.7,164.6 723.8,162.4 723.8,163.1 723.9,176.9 724.0,160.7 724.0,162.9 724.1,157.7 724.2,154.1 724.2,163.0 724.3,156.0 724.4,166.1 724.4,158.5 724.5,162.9 724.6,170.0 724.6,166.6 724.7,203.1 724.8,166.4 724.8,160.1 724.9,174.7 724.9,160.0 725.0,165.1 725.1,162.2 725.1,155.2 725.2,161.6 725.3,164.8 725.3,162.8 725.4,177.2 725.5,173.5 725.5,168.5 725.6,185.7 725.7,161.0 725.7,164.3 725.8,157.3 725.8,165.1 725.9,157.5 726.0,173.9 726.0,171.4 726.1,162.1 726.2,155.8 726.2,159.2 726.3,164.9 726.3,165.8 726.4,178.9 726.5,174.7 726.5,166.1 726.6,157.4 726.7,171.3 726.7,164.3 726.8,181.5 726.8,156.5 726.9,161.6 727.0,169.0 727.0,166.9 727.1,178.6 727.1,169.2 727.2,161.8 727.3,162.2 727.3,176.1 727.4,171.2 727.4,163.2 727.5,172.7 727.6,179.4 727.6,161.8 727.7,162.2 727.7,164.0 727.8,186.2 727.9,155.3 727.9,163.3 728.0,171.3 728.0,181.1 728.1,169.9 728.1,162.2 728.2,156.4 728.3,169.1 728.3,173.6 728.4,184.7 728.4,159.0 728.5,166.4 728.6,161.2 728.6,175.0 728.7,157.9 728.7,159.7 728.8,157.7 728.8,161.7 728.9,180.7 729.0,162.8 729.0,166.1 729.1,163.4 729.1,203.1 729.2,169.4 729.2,173.3 729.3,159.0 729.3,179.1 729.4,161.6 729.5,168.8 729.5,162.0 729.6,168.1 729.6,156.9 729.7,163.6 729.7,180.9 729.8,159.5 729.8,163.3 729.9,178.9 730.0,156.0 730.0,173.6 730.1,173.6 730.1,171.6 730.2,175.7 730.2,163.7 730.3,162.4 730.3,168.3 730.4,162.4 730.4,161.7 730.5,158.1 730.5,163.4 730.6,160.2 730.7,171.3 730.7,170.5 730.8,175.0 730.8,181.2 730.9,161.8 730.9,171.4 731.0,161.0 731.0,164.1 731.1,168.3 731.1,168.5 731.2,168.6 731.2,168.6 731.3,162.1 731.3,170.4 731.4,176.1 731.4,160.8 731.5,158.8 731.6,193.6 731.6,164.8 731.7,169.4 731.7,195.3 731.8,176.3 731.8,158.9 731.9,173.2 731.9,165.9 732.0,163.5 732.0,160.6 732.1,168.2 732.1,167.8 732.2,176.7 732.2,175.3 732.3,166.0 732.3,189.5 732.4,189.3 732.4,160.3 732.5,173.4 732.5,168.5 732.6,157.6 732.6,181.5 732.7,171.8 732.7,164.8 732.8,186.9 732.8,193.6 732.9,168.4 732.9,158.0 733.0,161.3 733.0,170.1 733.1,172.7 733.1,157.6 733.2,188.5 733.2,167.7 733.3,161.0 733.3,160.0 733.4,194.2 733.4,195.5 733.5,203.1 733.5,165.5 733.6,160.7 733.6,163.2 733.7,164.5 733.7,171.0 733.7,178.9 733.8,169.6 733.8,175.1 733.9,167.9 733.9,168.1 734.0,157.6 734.0,169.9 734.1,171.2 734.1,191.0 734.2,166.9 734.2,171.1 734.3,166.3 734.3,163.0 734.4,161.7 734.4,160.7 734.5,163.2 734.5,166.3 734.6,159.9 734.6,158.2 734.6,174.3 734.7,186.7 734.7,164.5 734.8,166.2 734.8,180.8 734.9,166.2 734.9,167.7 735.0,160.4 735.0,168.0 735.1,172.1 735.1,164.4 735.2,167.3 735.2,160.3 735.2,169.9 735.3,172.1 735.3,159.2 735.4,167.7 735.4,161.0 735.5,188.9 735.5,167.1 735.6,168.1 735.6,168.0 735.7,181.7 735.7,170.8 735.7,185.6 735.8,175.6 735.8,188.4 735.9,175.6 735.9,176.2 736.0,170.0 736.0,168.6 736.1,166.9 736.1,168.6 736.1,160.6 736.2,164.7 736.2,175.1 736.3,186.0 736.3,159.2 736.4,159.4 736.4,181.9 736.5,176.9 736.5,172.0 736.5,183.0 736.6,173.3 736.6,165.7 736.7,183.1 736.7,166.0 736.8,189.1 736.8,162.8 736.8,183.3 736.9,170.6 736.9,171.9 737.0,163.9 737.0,167.2 737.1,168.8 737.1,166.1 737.1,174.0 737.2,183.9 737.2,177.6 737.3,163.6 737.3,169.0 737.4,196.8 737.4,168.3 737.4,178.2 737.5,161.8 737.5,172.8 737.6,163.4 737.6,181.4 737.7,167.4 737.7,167.6 737.7,162.2 737.8,161.8 737.8,171.1 737.9,169.8 737.9,166.7 737.9,186.9 738.0,168.2 738.0,172.7 738.1,165.0 738.1,169.3 738.2,183.3 738.2,167.7 738.2,170.0 738.3,166.0 738.3,166.5 738.4,167.6 738.4,165.4 738.4,175.2 738.5,176.3 738.5,184.4 738.6,170.7 738.6,173.7 738.6,170.4 738.7,165.6 738.7,166.4 738.8,165.1 738.8,162.0 738.9,173.5 738.9,189.6 738.9,165.4 739.0,162.8 739.0,167.6 739.1,172.6 739.1,167.1 739.1,168.3 739.2,169.1 739.2,168.6 739.3,168.4 739.3,167.7 739.3,169.1 739.4,173.6 739.4,174.9 739.5,167.2 739.5,175.7 739.5,169.8 739.6,169.0 739.6,182.3 739.6,189.8 739.7,172.8 739.7,165.5 739.8,167.4 739.8,169.4 739.8,172.0 739.9,174.7 739.9,178.2 740.0,173.9 740.0,172.0 740.0,171.8 740.1,171.5 740.1,176.1 740.2,189.8 740.2,164.8 740.2,166.1 740.3,166.0 740.3,179.0 740.3,202.0 740.4,177.0 740.4,192.9 740.5,172.0 740.5,168.3 740.5,174.2 740.6,171.0 740.6,167.6 740.7,163.1 740.7,165.6 740.7,191.1 740.8,167.7 740.8,174.8 740.8,187.7 740.9,171.9 740.9,166.9 741.0,173.1 741.0,167.6 741.0,173.0 741.1,185.5 741.1,181.3 741.1,172.2 741.2,164.6 741.2,178.9 741.3,176.4 741.3,171.4 741.3,174.1 741.4,182.0 741.4,178.3 741.4,173.8 741.5,186.0 741.5,166.7 741.5,173.0 741.6,172.7 741.6,174.5 741.7,166.3 741.7,163.4 741.7,161.8 741.8,170.2 741.8,172.2 741.8,162.3 741.9,171.3 741.9,172.2 742.0,163.4 742.0,181.5 742.0,164.2 742.1,166.0 742.1,168.6 742.1,173.2 742.2,168.3 742.2,171.7 742.2,171.8 742.3,167.7 742.3,168.8 742.3,181.9 742.4,168.6 742.4,182.1 742.5,189.7 742.5,176.8 742.5,170.3 742.6,186.0 742.6,166.6 742.6,184.0 742.7,177.3 742.7,173.1 742.7,179.9 742.8,168.7 742.8,165.2 742.8,161.8 742.9,169.2 742.9,170.1 742.9,175.8 743.0,165.9 743.0,169.8 743.1,170.7 743.1,180.8 743.1,167.6 743.2,171.7 743.2,176.6 743.2,166.7 743.3,166.7 743.3,169.3 743.3,176.5 743.4,171.8 743.4,169.2 743.4,169.8 743.5,185.3 743.5,172.4 743.5,167.2 743.6,165.7 743.6,178.3 743.6,164.5 743.7,167.5 743.7,184.1 743.7,165.8 743.8,173.6 743.8,171.3 743.8,177.7 743.9,175.5 743.9,187.2 743.9,182.2 744.0,167.3 744.0,169.9 744.1,164.6 744.1,182.7 744.1,169.4 744.2,183.2 744.2,163.9 744.2,170.0 744.3,169.9 744.3,172.0 744.3,171.3 744.4,178.8 744.4,177.4 744.4,175.5 744.5,183.2 744.5,165.9 744.5,173.3 744.6,171.0 744.6,189.7 744.6,165.7 744.7,167.4 744.7,171.5 744.7,164.8 744.8,171.4 744.8,168.8 744.8,188.0 744.9,172.7 744.9,163.5 744.9,175.0 744.9,177.9 745.0,186.2 745.0,179.3 745.0,203.1 745.1,167.0 745.1,184.3 745.1,166.3 745.2,182.8 745.2,172.4 745.2,178.6 745.3,181.4 745.3,178.9 745.3,173.6 745.4,170.8 745.4,179.0 745.4,190.4 745.5,181.3 745.5,172.7 745.5,168.6 745.6,192.5 745.6,175.9 745.6,174.5 745.7,174.3 745.7,178.0 745.7,172.8 745.8,179.8 745.8,196.3 745.8,184.1 745.9,169.7 745.9,168.4 745.9,203.1 745.9,166.0 746.0,181.5 746.0,172.9 746.0,175.4 746.1,171.3 746.1,170.7 746.1,184.4 746.2,175.3 746.2,168.9 746.2,166.8 746.3,164.0 746.3,174.9 746.3,171.0 746.4,176.6 746.4,169.0 746.4,179.4 746.4,185.4 746.5,176.3 746.5,171.9 746.5,203.1 746.6,170.6 746.6,167.4 746.6,165.1 746.7,176.5 746.7,169.3 746.7,192.9 746.8,177.9 746.8,176.2 746.8,176.0 746.9,174.7 746.9,166.4 746.9,190.1 746.9,173.3 747.0,176.2 747.0,174.8 747.0,173.2 747.1,169.3 747.1,174.8 747.1,177.0 747.2,170.9 747.2,177.0 747.2,167.0 747.2,177.1 747.3,179.0 747.3,195.0 747.3,177.9 747.4,187.9 747.4,168.9 747.4,181.4 747.5,176.8 747.5,183.5 747.5,165.9 747.5,174.0 747.6,168.2 747.6,168.5 747.6,170.2 747.7,166.4 747.7,167.1 747.7,178.0 747.8,174.6 747.8,196.1 747.8,164.4 747.8,174.0 747.9,180.1 747.9,175.2 747.9,169.0 748.0,164.2 748.0,178.1 748.0,180.2 748.1,165.7 748.1,172.6 748.1,170.2 748.1,173.0 748.2,179.6 748.2,174.5 748.2,171.5 748.3,177.4 748.3,175.1 748.3,183.1 748.3,168.2 748.4,172.7 748.4,175.7 748.4,170.9 748.5,175.0 748.5,166.1 748.5,166.8 748.5,173.1 748.6,174.3 748.6,195.6 748.6,176.7 748.7,177.2 748.7,175.7 748.7,201.5 748.8,182.5 748.8,199.5 748.8,180.4 748.8,175.0 748.9,179.8 748.9,175.2 748.9,171.9 749.0,169.6 749.0,175.7 749.0,167.2 749.0,179.4 749.1,171.5 749.1,197.6 749.1,171.4 749.2,182.1 749.2,178.2 749.2,168.9 749.2,165.6 749.3,180.9 749.3,180.0 749.3,176.3 749.3,173.4 749.4,173.1 749.4,174.9 749.4,164.7 749.5,184.5 749.5,172.6 749.5,169.7 749.5,168.1 749.6,203.1 749.6,172.5 749.6,176.0 749.7,168.9 749.7,165.9 749.7,171.1 749.7,196.8 749.8,178.4 749.8,164.8 749.8,196.9 749.9,176.4 749.9,203.1 749.9,185.7 749.9,167.4 750.0,178.8 750.0,181.9 750.0,177.9 750.0,169.3 750.1,171.6 750.1,167.4 750.1,174.6 750.2,173.7 750.2,179.4 750.2,173.1 750.2,176.0 750.3,178.9 750.3,169.6 750.3,167.7 750.3,195.8 750.4,165.5 750.4,172.4 750.4,199.7 750.5,182.7 750.5,188.4 750.5,173.1 750.5,186.7 750.6,176.6 750.6,168.6 750.6,172.6 750.6,172.0 750.7,192.8 750.7,168.3 750.7,177.5 750.8,174.7 750.8,169.8 750.8,165.2 750.8,173.6 750.9,182.9 750.9,191.9 750.9,175.2 750.9,183.8 751.0,183.1 751.0,170.5 751.0,192.1 751.0,175.6 751.1,176.7 751.1,203.1 751.1,171.7 751.2,193.2 751.2,177.6 751.2,182.5 751.2,181.9 751.3,170.6 751.3,169.7 751.3,171.6 751.3,174.1 751.4,169.1 751.4,172.9 751.4,172.5 751.4,185.3 751.5,167.9 751.5,178.1 751.5,177.3 751.5,186.3 751.6,165.5 751.6,172.8 751.6,180.9 751.7,176.4 751.7,173.7 751.7,187.8 751.7,167.1 751.8,203.1 751.8,168.2 751.8,179.2 751.8,179.0 751.9,184.0 751.9,184.8 751.9,179.9 751.9,168.8 752.0,175.0 752.0,174.0 752.0,169.9 752.0,175.3 752.1,179.9 752.1,174.5 752.1,188.0 752.1,186.3 752.2,203.1 752.2,174.2 752.2,170.1 752.2,179.4 752.3,181.0 752.3,175.1 752.3,180.1 752.3,182.4 752.4,180.4 752.4,184.6 752.4,175.3 752.4,173.3 752.5,196.4 752.5,187.2 752.5,186.3 752.5,183.7 752.6,168.4 752.6,173.7 752.6,170.7 752.6,166.8 752.7,176.3 752.7,182.7 752.7,172.3 752.7,174.2 752.8,172.1 752.8,175.0 752.8,177.5 752.8,172.2 752.9,179.4 752.9,189.3 752.9,168.2 752.9,178.9 753.0,176.1 753.0,177.9 753.0,182.1 753.0,178.1 753.1,175.3 753.1,176.7 753.1,169.3 753.1,182.8 753.2,178.9 753.2,192.0 753.2,173.0 753.2,176.9 753.3,168.5 753.3,170.4 753.3,182.0 753.3,172.1 753.4,172.9 753.4,172.9 753.4,170.4 753.4,172.7 753.5,187.8 753.5,178.1 753.5,191.3 753.5,187.1 753.6,171.1 753.6,188.1 753.6,185.0 753.6,178.5 753.7,203.1 753.7,177.5 753.7,167.1 753.7,174.0 753.8,179.8 753.8,178.3 753.8,172.3 753.8,171.2 753.9,177.0 753.9,187.6 753.9,175.3 753.9,196.9 754.0,188.5 754.0,175.4 754.0,184.2 754.0,178.1 754.0,173.6 754.1,196.6 754.1,175.4 754.1,175.0 754.1,172.5 754.2,185.4 754.2,177.5 754.2,167.7 754.2,201.3 754.3,174.0 754.3,175.1 754.3,175.4 754.3,174.4 754.4,188.1 754.4,182.9 754.4,169.2 754.4,168.2 754.5,178.2 754.5,172.5 754.5,177.9 754.5,183.6 754.5,180.2 754.6,173.8 754.6,178.6 754.6,183.9 754.6,176.5 754.7,203.1 754.7,192.0 754.7,171.0 754.7,171.3 754.8,203.1 754.8,167.7 754.8,179.6 754.8,171.1 754.9,183.9 754.9,170.1 754.9,189.9 754.9,179.2 754.9,184.5 755.0,170.1 755.0,176.8 755.0,175.3 755.0,185.0 755.1,175.4 755.1,168.6 755.1,180.5 755.1,178.8 755.2,177.0 755.2,171.5 755.2,176.3 755.2,183.5 755.2,178.6 755.3,191.5 755.3,179.7 755.3,172.9 755.3,180.8 755.4,198.7 755.4,176.4 755.4,173.9 755.4,167.0 755.5,167.3 755.5,169.7 755.5,174.5 755.5,177.8 755.5,177.4 755.6,185.3 755.6,173.9 755.6,179.5 755.6,174.9 755.7,174.1 755.7,171.1 755.7,187.8 755.7,177.9 755.7,169.4 755.8,193.1 755.8,183.2 755.8,177.4 755.8,177.5 755.9,193.7 755.9,172.4 755.9,184.7 755.9,194.2 756.0,176.3 756.0,194.6 756.0,172.1 756.0,172.3 756.0,173.0 756.1,186.1 756.1,169.7 756.1,177.5 756.1,166.8 756.2,170.3 756.2,174.0 756.2,195.5 756.2,187.8 756.2,180.3 756.3,194.1 756.3,188.2 756.3,196.6 756.3,179.6 756.4,203.1 756.4,184.4 756.4,191.0 756.4,191.9 756.4,171.7 756.5,171.7 756.5,172.1 756.5,190.0 756.5,173.8 756.6,191.5 756.6,175.2 756.6,173.0 756.6,171.9 756.6,177.7 756.7,170.9 756.7,188.2 756.7,185.9 756.7,185.8 756.7,203.1 756.8,186.1 756.8,173.3 756.8,170.1 756.8,167.6 756.9,183.9 756.9,173.8 756.9,182.6 756.9,170.6 756.9,176.6 757.0,170.4 757.0,170.6 757.0,189.2 757.0,172.8 757.1,183.5 757.1,179.2 757.1,177.7 757.1,168.6 757.1,173.0 757.2,172.7 757.2,183.3 757.2,177.6 757.2,169.9 757.2,173.6 757.3,181.8 757.3,181.7 757.3,173.1 757.3,171.7 757.4,175.8 757.4,173.0 757.4,177.4 757.4,170.1 757.4,176.2 757.5,175.0 757.5,198.1 757.5,176.6 757.5,176.7 757.5,195.4 757.6,175.5 757.6,171.6 757.6,172.5 757.6,185.4 757.7,197.1 757.7,174.0 757.7,178.1 757.7,188.9 757.7,200.4 757.8,193.2 757.8,173.4 757.8,203.0 757.8,170.8 757.8,179.9 757.9,168.5 757.9,181.9 757.9,168.2 757.9,175.6 757.9,181.1 758.0,169.1 758.0,171.7 758.0,203.1 758.0,172.2 758.1,192.6 758.1,170.4 758.1,181.4 758.1,187.1 758.1,179.9 758.2,180.4 758.2,203.1 758.2,176.2 758.2,170.0 758.2,184.5 758.3,192.6 758.3,179.4 758.3,181.3 758.3,176.5 758.3,178.0 758.4,182.2 758.4,172.2 758.4,180.8 758.4,178.3 758.4,177.9 758.5,187.7 758.5,203.1 758.5,175.5 758.5,174.1 758.6,178.2 758.6,183.0 758.6,183.5 758.6,175.0 758.6,177.7 758.7,168.1 758.7,172.9 758.7,176.4 758.7,174.1 758.7,196.4 758.8,179.3 758.8,187.4 758.8,179.4 758.8,186.1 758.8,173.3 758.9,184.9 758.9,178.0 758.9,174.4 758.9,169.5 758.9,180.7 759.0,173.9 759.0,195.3 759.0,170.9 759.0,185.4 759.0,175.9 759.1,201.8 759.1,180.0 759.1,188.4 759.1,179.7 759.1,177.4 759.2,168.3 759.2,182.0 759.2,176.7 759.2,176.8 759.2,190.2 759.3,174.0 759.3,184.2 759.3,178.5 759.3,188.6 759.3,181.9 759.4,172.5 759.4,182.1 759.4,183.4 759.4,183.8 759.4,199.3 759.5,174.5 759.5,178.6 759.5,187.9 759.5,169.3 759.5,178.1 759.6,176.1 759.6,183.6 759.6,180.0 759.6,176.7 759.6,183.3 759.7,175.0 759.7,180.9 759.7,170.4 759.7,177.9 759.7,176.7 759.8,176.5 759.8,185.4 759.8,184.4 759.8,177.4 759.8,177.6 759.9,184.6 759.9,177.5 759.9,176.4 759.9,168.8 759.9,188.5 760.0,173.9 760.0,174.2 760.0,173.9 760.0,190.8 760.0,174.7 760.1,170.3 760.1,195.4 760.1,181.8 760.1,172.2 760.1,177.6 760.2,173.8 760.2,177.3 760.2,175.9 760.2,177.7 760.2,175.3 760.2,179.8 760.3,186.2 760.3,178.4 760.3,179.3 760.3,183.2 760.3,172.0 760.4,182.8 760.4,200.3 760.4,172.4 760.4,184.6 760.4,203.1 760.5,190.4 760.5,176.9 760.5,180.8 760.5,176.9 760.5,197.9 760.6,175.1 760.6,176.3 760.6,174.7 760.6,189.8 760.6,179.9 760.7,177.2 760.7,182.0 760.7,181.3 760.7,187.5 760.7,179.9 760.7,189.7 760.8,174.3 760.8,172.9 760.8,191.0 760.8,200.2 760.8,201.0 760.9,188.1 760.9,174.1 760.9,181.5 760.9,186.8 760.9,187.1 761.0,182.8 761.0,181.3 761.0,185.2 761.0,174.7 761.0,177.8 761.1,185.4 761.1,182.5 761.1,176.1 761.1,180.0 761.1,182.8 761.1,198.0 761.2,183.5 761.2,180.5 761.2,187.4 761.2,187.3 761.2,180.4 761.3,179.9 761.3,178.7 761.3,188.0 761.3,182.3 761.3,179.5 761.4,175.8 761.4,171.9 761.4,169.3 761.4,187.0 761.4,176.0 761.4,178.7 761.5,177.8 761.5,185.2 761.5,175.2 761.5,174.8 761.5,171.0 761.6,187.2 761.6,203.1 761.6,203.1 761.6,181.1 761.6,177.3 761.6,181.4 761.7,172.7 761.7,173.5 761.7,175.4 761.7,170.6 761.7,195.5 761.8,183.4 761.8,183.5 761.8,183.6 761.8,176.3 761.8,182.0 761.9,185.5 761.9,179.0 761.9,194.0 761.9,178.6 761.9,195.0 761.9,203.1 762.0,176.0 762.0,176.2 762.0,203.1 762.0,203.1 762.0,177.6 762.1,184.8 762.1,179.3 762.1,178.9 762.1,186.7 762.1,171.9 762.1,184.0 762.2,175.3 762.2,177.3 762.2,174.0 762.2,170.1 762.2,175.2 762.3,177.4 762.3,177.3 762.3,171.1 762.3,176.7 762.3,200.8 762.3,180.7 762.4,180.8 762.4,188.3 762.4,176.1 762.4,187.0 762.4,180.6 762.5,179.4 762.5,203.1 762.5,182.5 762.5,182.5 762.5,192.4 762.5,171.4 762.6,180.3 762.6,173.1 762.6,189.7 762.6,201.0 762.6,178.8 762.6,179.9 762.7,174.3 762.7,173.9 762.7,172.1 762.7,172.0 762.7,203.1 762.8,173.6 762.8,173.0 762.8,182.4 762.8,184.2 762.8,173.8 762.8,177.7 762.9,172.2 762.9,181.7 762.9,181.7 762.9,190.9 762.9,203.1 762.9,203.1 763.0,195.2 763.0,183.2 763.0,178.6 763.0,172.8 763.0,172.6 763.1,174.7 763.1,172.7 763.1,197.7 763.1,178.7 763.1,182.8 763.1,175.8 763.2,179.9 763.2,186.4 763.2,180.6 763.2,175.2 763.2,175.7 763.2,181.5 763.3,180.6 763.3,180.9 763.3,189.8 763.3,175.4 763.3,175.2 763.4,203.0 763.4,177.5 763.4,176.5 763.4,179.5 763.4,184.2 763.4,179.8 763.5,184.1 763.5,172.4 763.5,185.1 763.5,171.6 763.5,194.9 763.5,179.6 763.6,174.7 763.6,177.8 763.6,203.1 763.6,182.9 763.6,177.6 763.6,179.8 763.7,188.7 763.7,173.8 763.7,194.8 763.7,171.6 763.7,181.4 763.8,180.6 763.8,175.1 763.8,176.7 763.8,181.8 763.8,183.6 763.8,182.3 763.9,175.3 763.9,178.0 763.9,173.3 763.9,181.3 763.9,177.4 763.9,182.7 764.0,182.7 764.0,176.9 764.0,174.5 764.0,190.2 764.0,194.1 764.0,178.3 764.1,185.2 764.1,175.8 764.1,174.8 764.1,174.0 764.1,173.4 764.1,179.7 764.2,172.3 764.2,192.4 764.2,172.2 764.2,172.3 764.2,176.0 764.2,181.9 764.3,179.0 764.3,180.6 764.3,186.8 764.3,187.4 764.3,189.2 764.3,184.7 764.4,173.4 764.4,173.4 764.4,183.1 764.4,182.9 764.4,190.5 764.4,173.8 764.5,182.5 764.5,186.6 764.5,187.5 764.5,197.4 764.5,178.1 764.5,186.7 764.6,186.7 764.6,189.4 764.6,201.5 764.6,177.9 764.6,192.0 764.6,176.0 764.7,184.0 764.7,203.1 764.7,183.1 764.7,180.2 764.7,180.8 764.7,190.8 764.8,174.1 764.8,176.2 764.8,170.7 764.8,203.1 764.8,182.2 764.8,187.4 764.9,174.5 764.9,177.0 764.9,188.7 764.9,177.8 764.9,184.3 764.9,176.8 765.0,175.3 765.0,197.0 765.0,186.1 765.0,186.5 765.0,201.4 765.0,172.7 765.1,174.6 765.1,181.4 765.1,175.5 765.1,189.5 765.1,179.5 765.1,173.3 765.2,203.1 765.2,174.2 765.2,178.3 765.2,174.5 765.2,178.9 765.2,176.5 765.3,172.4 765.3,184.0 765.3,203.1 765.3,174.3 765.3,177.8 765.3,181.7 765.4,203.1 765.4,176.5 765.4,174.8 765.4,203.1 765.4,174.9 765.4,196.5 765.5,180.2 765.5,181.4 765.5,175.7 765.5,185.0 765.5,178.3 765.5,176.1 765.6,186.5 765.6,182.2 765.6,180.0 765.6,178.6 765.6,181.9 765.6,182.5 765.6,176.9 765.7,197.3 765.7,174.0 765.7,175.9 765.7,175.0 765.7,174.1 765.7,176.9 765.8,203.1 765.8,172.5 765.8,174.9 765.8,190.1 765.8,186.0 765.8,179.5 765.9,189.2 765.9,177.8 765.9,182.5 765.9,180.7 765.9,180.9 765.9,173.1 766.0,203.1 766.0,175.7 766.0,180.9 766.0,183.7 766.0,171.9 766.0,177.7 766.0,178.7 766.1,183.0 766.1,173.6 766.1,174.2 766.1,181.3 766.1,189.3 766.1,177.6 766.2,181.3 766.2,180.9 766.2,186.6 766.2,203.1 766.2,174.8 766.2,203.1 766.3,183.9 766.3,186.8 766.3,191.9 766.3,189.1 766.3,180.5 766.3,191.6 766.3,193.7 766.4,175.1 766.4,174.4 766.4,179.5 766.4,182.0 766.4,194.8 766.4,191.6 766.5,184.3 766.5,173.2 766.5,185.0 766.5,173.4 766.5,174.0 766.5,179.4 766.6,182.6 766.6,175.6 766.6,185.5 766.6,203.1 766.6,179.5 766.6,193.6 766.6,171.9" fill="none" stroke="#2a12d8" stroke-width="0.7" stroke-linejoin="round"/>
<polyline points="532.8,80.8 540.6,83.4 549.7,85.2 558.9,86.0 564.1,91.2 570.6,106.8 575.8,86.0 581.0,108.1 586.2,86.0 591.4,97.7 594.0,134.2 595.8,97.7 597.9,84.7 603.1,105.5 607.0,91.2 610.9,87.3 614.8,105.5 618.8,92.5 622.7,91.2 624.0,97.7 624.8,97.0" fill="none" stroke="#e8504a" stroke-width="0.6" stroke-linejoin="round" opacity="0.85"/>
<polyline points="624.8,97.0 625.8,96.9 626.7,101.7 627.6,107.7 628.5,99.0 629.4,95.1 630.2,101.7 631.1,112.7 631.9,101.6 632.6,105.5 633.4,105.1 634.1,100.0 634.9,100.9 635.6,98.3 636.3,120.3 636.9,95.0 637.6,108.1 638.2,95.2 638.9,94.2 639.5,107.2 640.1,100.9 640.7,114.3 641.2,94.7 641.8,125.7 642.4,112.4 642.9,111.1 643.4,96.6 644.0,99.0 644.5,122.8 645.0,113.0 645.5,108.4 646.0,118.9 646.5,113.6 646.9,104.0 647.6,107.2" fill="none" stroke="#e8443a" stroke-width="0.7" stroke-linejoin="round"/>
<polyline points="647.6,107.2 647.6,113.0 648.0,101.6 648.0,98.4 648.4,102.7 648.4,104.6 648.8,113.4 648.8,104.7 649.2,109.7 649.2,109.7 649.6,108.8 649.6,107.1 650.0,121.4 650.0,121.9 650.4,115.9 650.4,101.0 650.8,101.1 650.8,105.3 651.2,108.2 651.2,106.1 651.6,106.2 651.6,124.7 652.0,117.3 652.0,98.7 652.4,101.9 652.4,108.2 652.8,117.2 652.8,109.0 653.2,107.9 653.2,115.6 653.6,110.4 653.6,99.7 654.0,107.7 654.0,130.9 654.4,104.4 654.4,101.3 654.8,108.8 654.8,113.6 655.2,107.5 655.2,107.0 655.6,108.5 655.6,125.5 656.0,121.0 656.0,107.4 656.4,103.0 656.4,110.8 656.8,127.7 656.8,113.4 657.2,116.1 657.2,116.3 657.6,114.9 657.6,114.8 658.0,109.0 658.0,129.8 658.4,107.0 658.4,103.8 658.8,106.7 658.8,118.4 659.2,118.7 659.2,103.6 659.6,103.9 659.6,107.9 660.0,118.8 660.0,104.6 660.4,106.6 660.4,119.2 660.8,119.2 660.8,113.8 661.2,104.5 661.2,129.6 661.6,120.1 661.6,109.4 662.0,106.1 662.0,134.9 662.4,115.8 662.4,112.5 662.8,104.3 662.8,113.9 663.2,123.8 663.2,111.0 663.6,112.0 663.6,115.9 664.0,130.1 664.0,113.6 664.4,109.0 664.4,119.0 664.8,139.4 664.8,109.4 665.2,111.2 665.2,112.9 665.6,115.1 665.6,112.0 666.0,108.3 666.0,111.3 666.4,118.1 666.4,108.5 666.8,115.7 666.8,143.1 667.2,119.5 667.2,116.6 667.6,113.0 667.6,121.4 668.0,117.5 668.0,111.8 668.4,106.6 668.4,113.7 668.8,118.5 668.8,108.6 669.2,111.6 669.2,122.9 669.6,128.0 669.6,117.6 670.0,112.5 670.0,141.0 670.4,131.9 670.4,112.2 670.8,124.1 670.8,130.5 671.2,126.4 671.2,113.3 671.6,109.4 671.6,128.2 672.0,126.1 672.0,121.7 672.4,118.3 672.4,137.2 672.8,127.8 672.8,114.2 673.2,115.4 673.2,130.0 673.6,130.6 673.6,117.6 674.0,119.0 674.0,132.9 674.4,130.0 674.4,113.0 674.8,118.2 674.8,137.4 675.2,147.5 675.2,122.5 675.6,121.3 675.6,134.4 676.0,130.5 676.0,118.7 676.4,118.0 676.4,123.0 676.8,132.5 676.8,116.8 677.2,117.8 677.2,135.2 677.6,138.5 677.6,120.3 678.0,116.9 678.0,143.4 678.4,128.6 678.4,123.1 678.8,118.5 678.8,157.6 679.2,128.7 679.2,118.7 679.6,124.9 679.6,146.7 680.0,146.3 680.0,123.0 680.4,129.1 680.4,136.7 680.8,140.2 680.8,122.9 681.2,125.4 681.2,137.1 681.6,149.6 681.6,126.3 682.0,126.9 682.0,139.7 682.4,140.6 682.4,128.1 682.8,123.3 682.8,131.5 683.2,142.1 683.2,125.9 683.6,125.2 683.6,159.3 684.0,139.5 684.0,131.9 684.4,123.4 684.4,139.0 684.8,147.7 684.8,127.3 685.2,124.2 685.2,150.3 685.6,144.3 685.6,124.0 686.0,125.8 686.0,146.6 686.4,145.5 686.4,127.6 686.8,123.5 686.8,142.5 687.2,145.4 687.2,125.6 687.6,123.4 687.6,135.0 688.0,152.1 688.0,123.6 688.4,125.3 688.4,139.2 688.8,141.6 688.8,124.8 689.2,126.6 689.2,138.8 689.6,139.8 689.6,123.6 690.0,123.9 690.0,141.7 690.4,149.1 690.4,130.2 690.8,129.5 690.8,145.5 691.2,139.7 691.2,124.2 691.6,129.7 691.6,154.7 692.0,144.6 692.0,125.9 692.4,130.0 692.4,141.7 692.8,140.8 692.8,127.7 693.2,127.7 693.2,150.4 693.6,140.8 693.6,125.0 694.0,129.4 694.0,143.1 694.4,149.4 694.4,126.1 694.8,128.5 694.8,152.3 695.2,151.5 695.2,127.1 695.6,127.7 695.6,147.1 696.0,151.2 696.0,132.7 696.4,130.0 696.4,149.6 696.8,155.2 696.8,126.9 697.2,129.4 697.2,140.1 697.6,162.3 697.6,126.8 698.0,132.9 698.0,149.3 698.4,146.1 698.4,131.3 698.8,131.7 698.8,151.9 699.2,148.5 699.2,129.0 699.6,133.5 699.6,146.2 700.0,159.0 700.0,128.4 700.4,127.7 700.4,149.5 700.8,151.3 700.8,130.6 701.2,131.8 701.2,151.5 701.6,147.2 701.6,129.5 702.0,130.0 702.0,142.3 702.4,151.8 702.4,128.8 702.8,132.0 702.8,153.6 703.2,150.9 703.2,128.6 703.6,133.9 703.6,153.3 704.0,149.2 704.0,131.1 704.4,132.1 704.4,150.2 704.8,159.0 704.8,131.9 705.2,134.0 705.2,149.9 705.6,159.3 705.6,132.3 706.0,131.8 706.0,157.7 706.4,155.8 706.4,130.1 706.8,130.8 706.8,166.4 707.2,148.7 707.2,132.1 707.6,134.7 707.6,147.3 708.0,164.1 708.0,133.3 708.4,132.9 708.4,157.8 708.8,148.2 708.8,133.4 709.2,133.3 709.2,153.8 709.6,160.0 709.6,132.1 710.0,133.3 710.0,160.4 710.4,150.4 710.4,136.0 710.8,134.4 710.8,170.6 711.2,151.7 711.2,134.0 711.6,132.8 711.6,151.3 712.0,162.4 712.0,133.5 712.4,136.7 712.4,164.6 712.8,169.3 712.8,135.1 713.2,135.0 713.2,160.5 713.6,155.6 713.6,135.4 714.0,139.2 714.0,157.2 714.4,164.1 714.4,138.4 714.8,137.3 714.8,166.6 715.2,160.4 715.2,138.0 715.6,138.3 715.6,153.7 716.0,157.1 716.0,134.9 716.4,135.1 716.4,162.6 716.8,167.1 716.8,136.6 717.2,135.9 717.2,163.3 717.6,177.1 717.6,139.0 718.0,137.7 718.0,154.4 718.4,164.6 718.4,136.1 718.8,140.2 718.8,170.8 719.2,174.9 719.2,137.3 719.6,136.9 719.6,163.7 720.0,162.4 720.0,136.1 720.4,136.1 720.4,169.3 720.8,168.0 720.8,140.7 721.2,138.7 721.2,163.2 721.6,163.2 721.6,137.5 722.0,137.4 722.0,165.3 722.4,170.3 722.4,137.6 722.8,141.2 722.8,159.4 723.2,169.7 723.2,139.7 723.6,139.0 723.6,164.7 724.0,170.4 724.0,137.7 724.4,139.5 724.4,159.2 724.8,173.9 724.8,139.4 725.2,139.9 725.2,167.6 725.6,163.8 725.6,142.2 726.0,140.5 726.0,169.8 726.4,177.8 726.4,142.7 726.8,139.6 726.8,166.5 727.2,173.6 727.2,141.2 727.6,141.1 727.6,170.7 728.0,173.1 728.0,141.2 728.4,141.7 728.4,172.8 728.8,178.9 728.8,140.3 729.2,140.9 729.2,166.6 729.6,173.1 729.6,140.8 730.0,140.4 730.0,161.3 730.4,167.9 730.4,142.2 730.8,142.4 730.8,163.5 731.2,178.2 731.2,142.7 731.6,140.9 731.6,169.6 732.0,168.5 732.0,142.7 732.4,143.5 732.4,169.9 732.8,170.8 732.8,141.6 733.2,142.1 733.2,174.9 733.6,170.1 733.6,142.3 734.0,144.1 734.0,176.5 734.4,174.9 734.4,142.2 734.8,142.5 734.8,184.3 735.2,171.9 735.2,144.1 735.6,143.8 735.6,164.4 736.0,183.6 736.0,145.7 736.4,144.1 736.4,177.5 736.8,173.3 736.8,143.4 737.2,146.4 737.2,177.1 737.6,166.0 737.6,143.9 738.0,143.7 738.0,172.9 738.4,169.6 738.4,145.4 738.8,144.7 738.8,171.8 739.2,177.6 739.2,144.5 739.6,145.6 739.6,178.0 740.0,171.0 740.0,144.1 740.4,145.0 740.4,170.8 740.8,172.3 740.8,145.7 741.2,145.8 741.2,182.0 741.6,174.2 741.6,146.6 742.0,146.0 742.0,179.2 742.4,181.7 742.4,146.8 742.8,145.0 742.8,173.8 743.2,169.5 743.2,145.5 743.6,146.2 743.6,180.7 744.0,173.2 744.0,145.8 744.4,145.8 744.4,172.6 744.8,176.7 744.8,145.6 745.2,145.4 745.2,175.9 745.6,181.7 745.6,146.3 746.0,146.7 746.0,175.9 746.4,171.7 746.4,146.4 746.8,146.1 746.8,174.6 747.2,178.7 747.2,146.4 747.6,146.1 747.6,174.0 748.0,176.1 748.0,146.8 748.4,147.0 748.4,174.2 748.8,176.4 748.8,148.3 749.2,147.6 749.2,182.4 749.6,176.3 749.6,147.0 750.0,148.0 750.0,184.1 750.4,181.6 750.4,147.2 750.8,147.1 750.8,189.7 751.2,179.9 751.2,148.6 751.6,148.7 751.6,178.6 752.0,186.7 752.0,150.0 752.4,148.5 752.4,182.3 752.8,174.6 752.8,147.8 753.2,148.9 753.2,175.7 753.6,190.1 753.6,148.7 754.0,148.6 754.0,185.3 754.4,185.5 754.4,148.8 754.8,149.1 754.8,185.1 755.2,184.8 755.2,149.2 755.6,150.3 755.6,183.8 756.0,186.9 756.0,150.8 756.4,149.8 756.4,180.1 756.8,187.2 756.8,151.9 757.2,150.2 757.2,180.9 757.6,179.6 757.6,149.4 758.0,149.5 758.0,181.4 758.4,185.3 758.4,149.9 758.8,150.2 758.8,186.7 759.2,181.2 759.2,150.2 759.6,150.3 759.6,185.6 760.0,182.5 760.0,150.9 760.4,151.4 760.4,185.6 760.8,182.2 760.8,151.0 761.2,152.3 761.2,188.1 761.6,188.6 761.6,152.1 762.0,151.4 762.0,189.3 762.4,191.0 762.4,152.1 762.8,152.6 762.8,187.1 763.2,181.5 763.2,152.4 763.6,152.7 763.6,180.6 764.0,185.5 764.0,153.6 764.4,153.4 764.4,191.4 764.8,193.2 764.8,154.2 765.2,153.9 765.2,190.8 765.6,186.5 765.6,154.4 766.0,154.8 766.0,189.3 766.4,193.9 766.4,155.7 766.8,155.9 766.8,178.4" fill="none" stroke="#e83c2c" stroke-width="0.85" stroke-linejoin="round"/>
<path d="M533.0,156.5H681" stroke="#a8a8a8" stroke-width="0.6" stroke-dasharray="4 2 1 2" fill="none"/>
<path d="M682.4,38.8V203.1" stroke="#a8a8a8" stroke-width="0.6" stroke-dasharray="4 2 1 2" fill="none"/>
<path d="M537.5,51.3h14" stroke="#c4c4d0" stroke-width="0.8" stroke-dasharray="3 1.6" fill="none"/>
<path d="M537.5,61.9h14" stroke="#d8c8c8" stroke-width="0.8" stroke-dasharray="3 1.6" fill="none"/>
<text x="560.6" y="53.8" font-size="7" fill="#7a70d0" textLength="68.5" lengthAdjust="spacingAndGlyphs" font-family="Liberation Sans, sans-serif">0.1 Thermo PFM Cal.</text>
<text x="560.6" y="64.4" font-size="7" fill="#e89090" textLength="66" lengthAdjust="spacingAndGlyphs" font-family="Liberation Sans, sans-serif">0.1 Thermo In Flight</text>
<text x="660" y="87" font-size="7" fill="#848484" textLength="53.5" lengthAdjust="spacingAndGlyphs" font-family="Liberation Sans, sans-serif">Dipole Frequency</text>
<text x="562" y="148.2" font-size="7" fill="#848484" textLength="42" lengthAdjust="spacingAndGlyphs" font-family="Liberation Sans, sans-serif">Requirements</text>
<text class="ax" x="568" y="32.5" font-size="11.5" textLength="163" lengthAdjust="spacing">PFM vs Flight Thermo 0.1K</text>
<text class="ax" x="485.1" y="45.2" font-size="10.2" textLength="43.7" lengthAdjust="spacingAndGlyphs">1000.000</text>
<text class="ax" x="490.8" y="70.2" font-size="10.2" textLength="38.0" lengthAdjust="spacingAndGlyphs">100.000</text>
<text class="ax" x="496.4" y="97.5" font-size="10.2" textLength="32.4" lengthAdjust="spacingAndGlyphs">10.000</text>
<text class="ax" x="502.2" y="125.0" font-size="10.2" textLength="26.6" lengthAdjust="spacingAndGlyphs">1.000</text>
<text class="ax" x="502.2" y="152.5" font-size="10.2" textLength="26.6" lengthAdjust="spacingAndGlyphs">0.100</text>
<text class="ax" x="502.2" y="180.6" font-size="10.2" textLength="26.6" lengthAdjust="spacingAndGlyphs">0.010</text>
<text class="ax" x="502.2" y="204.3" font-size="10.2" textLength="26.6" lengthAdjust="spacingAndGlyphs">0.001</text>
<text class="ax" x="532" y="218.2" font-size="10.2" text-anchor="middle">0.0001</text>
<text class="ax" x="601.7" y="218.2" font-size="10.2" text-anchor="middle">0.0010</text>
<text class="ax" x="669" y="218.2" font-size="10.2" text-anchor="middle">0.0100</text>
<text class="ax" x="736" y="218.2" font-size="10.2" text-anchor="middle">0.1000</text>
<text class="ax" x="626.5" y="230" font-size="10.5" textLength="46" lengthAdjust="spacing">Freq [Hz]</text>
<text class="ax" transform="translate(476,164) rotate(-90)" font-size="10.5" textLength="88.5" lengthAdjust="spacing">[microK/sqrt(Hz)]</text>
</g>
<g filter="url(#fc)">
<text class="cap" x="108" y="269.5" textLength="694" lengthAdjust="spacingAndGlyphs"><tspan font-weight="bold">Fig. 30.</tspan> Comparison of the signal of the thermometer of the bolometer plate stage between ground calibration and flight</text>
<text class="cap" x="108" y="283.8" textLength="616" lengthAdjust="spacingAndGlyphs">in time domain (left) and in frequency domain (right). The requirements are calculated for one bolometer.</text>
</g>
<g filter="url(#fb)">
<rect x="302.7" y="332.4" width="432.7" height="306.6" fill="none" stroke="#888888" stroke-width="1.2"/>
<path d="M302.7,639.0v-7M302.7,332.4v7M317.1,639.0v-3.5M317.1,332.4v3.5M331.5,639.0v-3.5M331.5,332.4v3.5M346.0,639.0v-3.5M346.0,332.4v3.5M360.4,639.0v-3.5M360.4,332.4v3.5M374.8,639.0v-3.5M374.8,332.4v3.5M389.2,639.0v-3.5M389.2,332.4v3.5M403.7,639.0v-3.5M403.7,332.4v3.5M418.1,639.0v-3.5M418.1,332.4v3.5M432.5,639.0v-3.5M432.5,332.4v3.5M446.9,639.0v-7M446.9,332.4v7M461.4,639.0v-3.5M461.4,332.4v3.5M475.8,639.0v-3.5M475.8,332.4v3.5M490.2,639.0v-3.5M490.2,332.4v3.5M504.6,639.0v-3.5M504.6,332.4v3.5M519.0,639.0v-3.5M519.0,332.4v3.5M533.5,639.0v-3.5M533.5,332.4v3.5M547.9,639.0v-3.5M547.9,332.4v3.5M562.3,639.0v-3.5M562.3,332.4v3.5M576.7,639.0v-3.5M576.7,332.4v3.5M591.2,639.0v-7M591.2,332.4v7M605.6,639.0v-3.5M605.6,332.4v3.5M620.0,639.0v-3.5M620.0,332.4v3.5M634.4,639.0v-3.5M634.4,332.4v3.5M648.9,639.0v-3.5M648.9,332.4v3.5M663.3,639.0v-3.5M663.3,332.4v3.5M677.7,639.0v-3.5M677.7,332.4v3.5M692.1,639.0v-3.5M692.1,332.4v3.5M706.6,639.0v-3.5M706.6,332.4v3.5M721.0,639.0v-3.5M721.0,332.4v3.5M735.4,639.0v-7M735.4,332.4v7M302.7,639.0h7M735.4,639.0h-7M302.7,623.7h3.5M735.4,623.7h-3.5M302.7,608.3h3.5M735.4,608.3h-3.5M302.7,593.0h3.5M735.4,593.0h-3.5M302.7,577.7h3.5M735.4,577.7h-3.5M302.7,562.4h7M735.4,562.4h-7M302.7,547.0h3.5M735.4,547.0h-3.5M302.7,531.7h3.5M735.4,531.7h-3.5M302.7,516.4h3.5M735.4,516.4h-3.5M302.7,501.0h3.5M735.4,501.0h-3.5M302.7,485.7h7M735.4,485.7h-7M302.7,470.4h3.5M735.4,470.4h-3.5M302.7,455.0h3.5M735.4,455.0h-3.5M302.7,439.7h3.5M735.4,439.7h-3.5M302.7,424.4h3.5M735.4,424.4h-3.5M302.7,409.1h7M735.4,409.1h-7M302.7,393.7h3.5M735.4,393.7h-3.5M302.7,378.4h3.5M735.4,378.4h-3.5M302.7,363.1h3.5M735.4,363.1h-3.5M302.7,347.7h3.5M735.4,347.7h-3.5M302.7,332.4h7M735.4,332.4h-7" stroke="#888888" stroke-width="1" fill="none"/>
<polyline points="302.7,484.1 302.9,481.6 303.1,478.9 303.2,461.2 303.4,475.3 303.6,478.6 303.8,477.9 304.0,485.8 304.1,489.7 304.3,477.1 304.5,474.5 304.7,477.6 304.8,489.9 305.0,493.0 305.2,476.5 305.4,472.6 305.6,488.8 305.7,502.5 305.9,492.0 306.1,482.1 306.3,495.6 306.5,486.9 306.6,493.7 306.8,503.9 307.0,498.8 307.2,491.7 307.3,495.5 307.5,483.7 307.7,484.0 307.9,480.4 308.1,482.6 308.2,480.7 308.4,482.9 308.6,481.5 308.8,485.3 309.0,486.1 309.1,488.4 309.3,499.5 309.5,475.1 309.7,493.4 309.8,485.0 310.0,472.4 310.2,477.8 310.4,482.0 310.6,492.5 310.7,475.7 310.9,481.8 311.1,482.7 311.3,465.7 311.5,464.3 311.6,480.5 311.8,486.9 312.0,492.6 312.2,489.1 312.3,486.4 312.5,482.6 312.7,491.4 312.9,474.7 313.1,475.3 313.2,480.3 313.4,463.2 313.6,485.1 313.8,473.7 314.0,477.3 314.1,500.4 314.3,480.8 314.5,477.5 314.7,496.9 314.8,479.3 315.0,480.0 315.2,489.9 315.4,493.5 315.6,496.8 315.7,496.5 315.9,506.4 316.1,507.4 316.3,504.5 316.5,492.0 316.6,488.0 316.8,476.0 317.0,497.1 317.2,481.4 317.3,502.2 317.5,519.4 317.7,498.5 317.9,495.5 318.1,497.1 318.2,510.8 318.4,500.1 318.6,504.1 318.8,502.4 319.0,505.1 319.1,521.4 319.3,506.4 319.5,511.2 319.7,515.0 319.9,522.2 320.0,504.9 320.2,521.7 320.4,521.4 320.6,525.8 320.7,520.0 320.9,502.0 321.1,505.4 321.3,520.8 321.5,519.1 321.6,517.9 321.8,535.3 322.0,545.6 322.2,528.2 322.4,541.1 322.5,508.6 322.7,497.0 322.9,520.9 323.1,518.9 323.2,526.4 323.4,529.0 323.6,524.7 323.8,530.9 324.0,528.5 324.1,512.2 324.3,523.6 324.5,527.7 324.7,545.2 324.9,523.7 325.0,527.5 325.2,525.1 325.4,527.5 325.6,545.9 325.7,540.6 325.9,531.2 326.1,534.2 326.3,541.6 326.5,527.9 326.6,530.5 326.8,549.0 327.0,549.5 327.2,541.2 327.4,532.7 327.5,531.9 327.7,517.5 327.9,535.3 328.1,534.9 328.2,532.0 328.4,516.5 328.6,515.7 328.8,526.2 329.0,526.6 329.1,518.7 329.3,524.6 329.5,529.9 329.7,515.5 329.9,511.0 330.0,505.3 330.2,499.8 330.4,515.2 330.6,516.6 330.7,514.3 330.9,498.0 331.1,492.4 331.3,498.5 331.5,496.2 331.6,499.3 331.8,491.5 332.0,500.4 332.2,513.3 332.4,514.2 332.5,514.0 332.7,498.1 332.9,499.5 333.1,487.2 333.3,495.4 333.4,485.9 333.6,481.4 333.8,478.2 334.0,489.7 334.1,489.6 334.3,488.6 334.5,475.5 334.7,483.0 334.9,470.5 335.0,493.7 335.2,486.5 335.4,486.9 335.6,484.1 335.8,468.9 335.9,465.5 336.1,477.0 336.3,495.3 336.5,476.9 336.6,474.2 336.8,479.4 337.0,466.0 337.2,461.6 337.4,472.7 337.5,480.4 337.7,480.1 337.9,498.7 338.1,489.4 338.3,491.5 338.4,504.3 338.6,510.1 338.8,481.2 339.0,483.0 339.1,498.6 339.3,480.3 339.5,478.5 339.7,474.7 339.9,473.1 340.0,475.0 340.2,488.5 340.4,504.0 340.6,512.2 340.8,501.0 340.9,478.9 341.1,490.0 341.3,491.8 341.5,499.5 341.6,498.3 341.8,482.5 342.0,498.6 342.2,481.3 342.4,488.8 342.5,501.6 342.7,507.0 342.9,521.1 343.1,489.2 343.3,504.3 343.4,513.5 343.6,507.6 343.8,515.3 344.0,502.1 344.1,514.7 344.3,518.6 344.5,506.1 344.7,505.0 344.9,507.2 345.0,502.5 345.2,515.9 345.4,511.2 345.6,519.3 345.8,519.7 345.9,508.1 346.1,500.6 346.3,489.7 346.5,486.1 346.6,483.8 346.8,492.8 347.0,483.1 347.2,487.8 347.4,489.4 347.5,482.3 347.7,481.7 347.9,495.9 348.1,501.3 348.3,479.3 348.4,476.1 348.6,473.0 348.8,473.8 349.0,491.7 349.2,490.3 349.3,495.7 349.5,502.9 349.7,484.8 349.9,481.2 350.0,482.6 350.2,492.8 350.4,486.2 350.6,491.3 350.8,498.5 350.9,501.4 351.1,496.0 351.3,482.8 351.5,471.4 351.7,493.4 351.8,495.3 352.0,483.2 352.2,483.6 352.4,484.8 352.5,474.0 352.7,489.1 352.9,485.0 353.1,488.8 353.3,500.4 353.4,497.1 353.6,502.5 353.8,503.7 354.0,501.0 354.2,500.7 354.3,518.3 354.5,505.1 354.7,517.4 354.9,497.6 355.0,506.2 355.2,503.9 355.4,494.5 355.6,472.9 355.8,505.6 355.9,490.9 356.1,487.5 356.3,496.7 356.5,499.2 356.7,502.1 356.8,498.0 357.0,484.8 357.2,502.5 357.4,491.9 357.5,498.9 357.7,504.6 357.9,512.3 358.1,501.7 358.3,497.1 358.4,496.1 358.6,480.4 358.8,485.3 359.0,484.6 359.2,482.9 359.3,494.8 359.5,494.4 359.7,512.3 359.9,517.5 360.0,487.3 360.2,495.7 360.4,487.6 360.6,499.3 360.8,499.3 360.9,506.4 361.1,502.7 361.3,505.4 361.5,496.0 361.7,471.5 361.8,475.2 362.0,479.4 362.2,484.0 362.4,480.4 362.6,504.0 362.7,494.9 362.9,505.3 363.1,493.2 363.3,507.6 363.4,485.2 363.6,494.3 363.8,478.8 364.0,490.0 364.2,504.5 364.3,478.7 364.5,476.6 364.7,486.2 364.9,485.2 365.1,473.4 365.2,493.0 365.4,489.0 365.6,499.2 365.8,493.2 365.9,476.9 366.1,478.1 366.3,498.6 366.5,481.1 366.7,485.4 366.8,498.7 367.0,508.9 367.2,512.3 367.4,493.3 367.6,522.1 367.7,512.5 367.9,512.4 368.1,513.9 368.3,513.9 368.4,508.5 368.6,514.3 368.8,533.6 369.0,516.5 369.2,501.9 369.3,526.6 369.5,534.9 369.7,543.2 369.9,554.7 370.1,537.8 370.2,537.0 370.4,538.0 370.6,543.6 370.8,541.8 370.9,521.7 371.1,507.8 371.3,511.7 371.5,498.6 371.7,518.2 371.8,509.0 372.0,504.7 372.2,496.8 372.4,515.6 372.6,509.0 372.7,498.7 372.9,503.4 373.1,497.0 373.3,499.9 373.4,506.3 373.6,492.2 373.8,493.2 374.0,493.6 374.2,500.5 374.3,498.1 374.5,492.1 374.7,483.9 374.9,490.2 375.1,479.9 375.2,492.7 375.4,491.8 375.6,496.4 375.8,488.1 375.9,482.8 376.1,480.1 376.3,498.6 376.5,492.8 376.7,490.9 376.8,475.7 377.0,487.1 377.2,461.2 377.4,495.2 377.6,492.5 377.9,540.0 378.1,626.7 378.7,520.0 379.7,463.4 379.9,441.3 380.0,431.8 380.2,440.3 380.4,430.1 380.6,430.4 380.7,437.9 380.9,432.5 381.1,403.1 381.3,400.1 381.4,395.6 381.6,394.4 381.8,384.5 382.0,384.5 382.1,388.6 382.3,393.4 382.5,405.6 382.7,400.9 382.8,416.1 383.0,388.4 383.2,384.5 383.4,397.8 383.5,398.4 383.7,391.9 383.9,407.7 384.1,416.9 384.2,422.8 384.4,408.3 384.6,407.5 384.8,410.1 384.9,409.8 385.1,419.8 385.3,408.6 385.5,413.8 385.6,389.7 385.8,410.6 386.0,426.6 386.2,415.3 386.3,421.8 386.5,396.9 386.7,401.3 386.9,390.5 387.0,405.2 387.2,412.2 387.4,395.5 387.6,394.7 387.7,396.9 387.9,427.6 388.1,413.6 388.3,410.7 388.4,412.2 388.6,412.1 388.8,406.8 389.0,394.2 389.1,396.3 389.3,420.3 389.5,415.0 389.7,406.9 389.8,394.4 390.0,403.0 390.2,407.0 390.3,401.6 390.5,415.3 390.7,405.7 390.9,407.1 391.0,418.2 391.2,416.3 391.4,425.2 391.6,415.2 391.7,410.2 391.9,417.9 392.1,418.5 392.3,428.9 392.4,425.2 392.6,420.1 392.8,423.5 393.0,427.4 393.1,412.2 393.3,417.5 393.5,418.5 393.7,435.1 393.8,425.0 394.0,437.9 394.2,420.1 394.4,426.9 394.5,441.4 394.7,434.2 394.9,446.7 395.1,420.3 395.2,432.5 395.4,438.9 395.6,439.1 395.8,426.1 395.9,444.1 396.1,421.3 396.3,446.9 396.5,450.1 396.6,459.0 396.8,450.5 397.0,439.7 397.2,442.7 397.3,445.1 397.5,457.4 397.7,453.4 397.9,460.1 398.0,463.9 398.2,475.4 398.4,446.1 398.6,452.5 398.7,466.4 398.9,472.1 399.1,462.4 399.3,462.8 399.4,465.4 399.6,469.4 399.8,464.6 400.0,462.9 400.1,458.4 400.3,464.9 400.5,485.7 400.7,470.4 400.8,484.9 401.0,500.6 401.2,489.5 401.4,507.8 401.5,490.0 401.7,502.6 401.9,490.5 402.0,475.4 402.2,486.4 402.4,506.4 402.6,489.4 402.7,494.8 402.9,482.7 403.1,480.3 403.3,493.5 403.4,492.5 403.6,500.4 403.8,510.9 404.0,490.8 404.1,489.4 404.3,496.6 404.5,522.1 404.7,505.0 404.8,497.7 405.0,504.8 405.2,524.2 405.4,504.5 405.5,500.7 405.7,503.2 405.9,511.6 406.1,529.1 406.2,501.3 406.4,487.8 406.6,501.6 406.8,510.5 406.9,486.3 407.1,494.7 407.3,514.0 407.5,506.5 407.6,514.5 407.8,514.8 408.0,520.3 408.2,520.6 408.3,519.6 408.5,529.7 408.7,515.7 408.9,518.2 409.0,529.8 409.2,517.5 409.4,515.7 409.6,511.8 409.7,509.2 409.9,538.4 410.1,533.7 410.3,546.7 410.4,540.4 410.6,532.2 410.8,526.3 411.0,530.3 411.1,529.2 411.3,538.9 411.5,525.1 411.7,531.2 411.8,536.8 412.0,532.4 412.2,531.4 412.4,539.5 412.5,543.0 412.7,538.1 412.9,537.9 413.1,532.9 413.2,542.9 413.4,540.2 413.6,525.3 413.7,533.2 413.9,545.8 414.1,547.4 414.3,536.8 414.4,549.9 414.6,553.7 414.8,555.6 415.0,566.0 415.1,551.6 415.3,556.4 415.5,550.1 415.7,560.9 415.8,566.9 416.0,562.8 416.2,564.5 416.4,550.1 416.5,560.0 416.7,545.8 416.9,574.9 417.1,575.6 417.2,549.5 417.4,529.6 417.6,562.8 417.8,553.4 417.9,564.6 418.1,550.6 418.3,560.0 418.5,556.6 418.6,568.4 418.8,563.7 419.0,580.8 419.2,564.8 419.3,580.2 419.5,573.1 419.7,576.5 419.9,557.1 420.0,549.2 420.2,575.0 420.4,561.7 420.6,566.5 420.7,568.9 420.9,564.4 421.1,574.4 421.3,562.3 421.4,560.8 421.6,582.0 421.8,572.6 422.0,585.3 422.1,589.5 422.3,600.0 422.5,593.6 422.7,569.0 422.8,572.8 423.0,577.0 423.2,595.4 423.4,593.5 423.5,585.0 423.7,591.8 423.9,586.8 424.1,594.6 424.2,593.9 424.4,603.8 424.6,599.8 424.7,605.4 424.9,597.6 425.1,602.4 425.3,595.8 425.4,601.8 425.6,600.0 425.8,596.3 426.0,592.4 426.1,592.8 426.3,600.7 426.5,576.2 426.7,603.3 426.8,577.0 427.0,590.0 427.2,593.4 427.4,605.7 427.5,605.3 427.7,602.7 427.9,603.4 428.1,612.6 428.2,630.1 428.4,616.9 428.6,588.3 428.8,595.0 428.9,606.1 429.1,638.5 429.3,610.4 429.5,604.6 429.6,612.2 429.8,612.8 430.0,596.9 430.2,614.4 430.3,598.2 430.5,603.4 430.7,621.4 430.9,601.5 431.0,604.7 431.2,626.2 431.4,614.7 431.6,603.1 431.7,604.1 431.9,618.9 432.1,600.3 432.3,603.5 432.4,596.6 432.6,597.5 432.8,622.6 433.0,618.0 433.1,613.1 433.3,620.4 433.5,611.8 433.7,604.2 433.8,625.4 434.0,630.4 434.2,615.2 434.4,625.7 434.5,637.3 434.7,631.9 434.9,630.5 435.1,612.8 435.2,618.0 435.4,602.7 435.6,627.2 435.8,622.9 435.9,636.5 436.1,620.3 436.3,631.3 436.4,610.5 436.6,615.1 436.8,626.3 437.0,628.4 437.1,625.1 437.3,608.0 437.5,632.0 437.7,633.8 437.8,638.5 438.0,638.5 438.2,626.8 438.4,629.5 438.5,638.5 438.7,624.8 438.9,626.8 439.1,617.0 439.2,636.1 439.4,626.2 439.6,609.7 439.8,607.5 439.9,597.9 440.1,585.0 440.3,575.3 440.5,591.2 440.6,592.0 440.8,604.4 441.0,600.3 441.2,610.3 441.3,630.1 441.5,607.9 441.7,600.5 441.9,620.8 442.0,638.5 442.2,618.1 442.4,602.1 442.6,611.4 442.7,614.3 442.9,627.3 443.1,614.7 443.3,619.1 443.4,620.9 443.6,609.5 443.8,606.3 444.0,626.4 444.1,635.2 444.3,625.4 444.5,638.5 444.7,638.5 444.8,638.5 445.0,638.5 445.2,638.5 445.4,638.5 445.5,638.5 445.7,638.5 445.9,619.4" fill="none" stroke="#3424dc" stroke-width="0.75" stroke-linejoin="round"/>
<polyline points="302.7,485.7 304.1,485.7 305.5,485.7 306.9,485.7 308.3,485.7 309.7,485.7 311.1,485.7 312.5,485.7 313.9,485.7 315.3,485.7 316.7,485.7 318.1,485.7 319.5,485.7 321.0,485.7 322.4,485.7 323.8,485.7 325.2,485.7 326.6,485.7 328.0,485.7 329.4,485.7 330.8,485.7 332.2,485.7 333.6,485.7 335.0,485.7 336.4,485.7 337.8,485.7 339.2,485.7 340.6,485.7 342.0,485.7 343.4,485.7 344.8,485.7 346.2,485.7 347.6,485.7 349.0,485.7 350.4,485.7 351.8,485.7 353.2,485.7 354.6,485.7 356.0,485.7 357.5,485.7 358.9,485.7 360.3,485.7 361.7,485.7 363.1,485.7 364.5,485.7 365.9,485.7 367.3,485.7 368.7,485.7 370.1,485.7 371.5,485.7 372.9,485.7 374.3,485.7 375.7,485.7 377.1,485.7 378.5,485.7 379.9,485.7 381.3,485.7 382.7,485.7 384.1,485.7 385.5,485.8 386.9,485.8 388.3,485.8 389.7,485.8 391.1,485.8 392.6,485.9 394.0,485.9 395.4,485.9 396.8,486.0 398.2,486.0 399.6,486.1 401.0,486.1 402.4,486.2 403.8,486.3 405.2,486.3 406.6,486.4 408.0,486.5 409.4,486.6 410.8,486.7 412.2,486.8 413.6,486.9 415.0,487.0 416.4,487.1 417.8,487.3 419.2,487.4 420.6,487.6 422.0,487.7 423.4,487.9 424.8,488.1 426.2,488.3 427.6,488.5 429.1,488.7 430.5,488.9 431.9,489.1 433.3,489.4 434.7,489.6 436.1,489.9 437.5,490.2 438.9,490.5 440.3,490.8 441.7,491.1 443.1,491.4 444.5,491.8 445.9,492.1 447.3,492.5 448.7,492.9 450.1,493.3 451.5,493.7 452.9,494.1 454.3,494.5 455.7,495.0 457.1,495.5 458.5,496.0 459.9,496.5 461.3,497.0 462.7,497.5 464.2,498.1 465.6,498.7 467.0,499.3 468.4,499.9 469.8,500.5 471.2,501.2 472.6,501.8 474.0,502.5 475.4,503.2 476.8,504.0 478.2,504.7 479.6,505.5 481.0,506.3 482.4,507.1 483.8,507.9 485.2,508.8 486.6,509.7 488.0,510.6 489.4,511.5 490.8,512.5 492.2,513.4 493.6,514.4 495.0,515.4 496.4,516.5 497.8,517.6 499.2,518.6 500.7,519.8 502.1,520.9 503.5,522.1 504.9,523.3 506.3,524.5 507.7,525.8 509.1,527.0 510.5,528.3 511.9,529.7 513.3,531.0 514.7,532.4 516.1,533.8 517.5,535.3 518.9,536.8 520.3,538.3 521.7,539.8 523.1,541.4 524.5,543.0 525.9,544.6 527.3,546.3 528.7,548.0 530.1,549.7 531.5,551.5 532.9,553.2 534.3,555.1 535.8,556.9 537.2,558.8 538.6,560.7 540.0,562.7 541.4,564.7 542.8,566.7 544.2,568.8 545.6,570.9 547.0,573.0 548.4,575.2 549.8,577.4 551.2,579.6 552.6,581.9 554.0,584.2 555.4,586.6 556.8,589.0 558.2,591.4 559.6,593.9 561.0,596.4 562.4,599.0 563.8,601.5 565.2,604.2 566.6,606.8 568.0,609.6 569.4,612.3 570.8,615.1 572.3,617.9 573.7,620.8 575.1,623.7 576.5,626.7 577.9,629.7 579.3,632.8 580.7,635.9 582.1,639.0" fill="none" stroke="#c03850" stroke-width="1.0"/>
<polyline points="302.7,484.8 303.6,485.6 304.6,484.4 305.5,483.6 306.5,485.7 307.4,485.0 308.4,484.9 309.3,483.4 310.3,483.6 311.2,485.8 312.2,484.8 313.1,486.8 314.1,486.1 315.0,484.9 316.0,484.1 316.9,483.7 317.9,484.9 318.8,485.5 319.8,482.0 320.7,480.8 321.7,478.0 322.6,477.1 323.6,476.8 324.5,478.7 325.5,480.8 326.4,484.7 327.4,484.9 328.3,488.5 329.3,489.0 330.2,487.2 331.2,488.5 332.1,489.2 333.1,484.7 334.0,484.4 335.0,483.8 335.9,484.8 336.9,484.5 337.8,485.2 338.8,485.8 339.7,483.1 340.7,485.4 341.6,485.5 342.6,485.4 343.5,482.4 344.5,483.2 345.4,483.9 346.4,482.2 347.3,479.7 348.3,477.1 349.2,478.5 350.2,474.6 351.1,476.5 352.1,478.5 353.0,480.2 354.0,480.7 354.9,480.9 355.9,483.7 356.8,483.4 357.8,484.9 358.7,482.8 359.7,481.6 360.6,483.6 361.6,481.6 362.5,479.5 363.5,482.5 364.4,481.1 365.4,480.5 366.3,484.2 367.3,483.4 368.2,483.6 369.2,483.1 370.1,486.1 371.1,483.4 372.0,484.5 373.0,483.4 373.9,483.5 374.9,484.5 375.8,484.3 376.8,487.1 377.7,486.6 379.9,488.8 400.8,638.4" fill="none" stroke="#5fe05a" stroke-width="1.0"/>
<path d="M400.8,638.4H735.4" fill="none" stroke="#86dc8a" stroke-width="0.8"/>
<polyline points="302.7,484.9 569.5,484.9 579.6,483.9 602.7,478.3 611.4,477.6 735.4,477.6" fill="none" stroke="#e6c244" stroke-width="1.15"/>
<path d="M481.5,356.3h27" stroke="#a0a0b0" stroke-width="1.1" stroke-dasharray="7 3" fill="none"/>
<text x="526.7" y="360.3" font-size="11" fill="#8880d4" textLength="66.6" lengthAdjust="spacingAndGlyphs" font-family="Liberation Sans, sans-serif">PID Dilution</text>
<path d="M481.5,377.0h27" stroke="#b0a0a4" stroke-width="1.1" stroke-dasharray="7 3" fill="none"/>
<text x="526.7" y="381.0" font-size="11" fill="#e08898" textLength="53" lengthAdjust="spacingAndGlyphs" font-family="Liberation Sans, sans-serif">PID Plate</text>
<path d="M481.5,396.7h27" stroke="#c4dcc8" stroke-width="1.1" stroke-dasharray="none" fill="none"/>
<text x="526.7" y="400.7" font-size="11" fill="#8ee8a0" textLength="50.6" lengthAdjust="spacingAndGlyphs" font-family="Liberation Sans, sans-serif">PID 1.6K</text>
<path d="M481.5,417.5h27" stroke="#eee8a8" stroke-width="1.1" stroke-dasharray="none" fill="none"/>
<text x="526.7" y="421.5" font-size="11" fill="#ecdf80" textLength="89" lengthAdjust="spacingAndGlyphs" font-family="Liberation Sans, sans-serif">Thermo 100mK</text>
<text class="ax2" x="268.3" y="344.0" font-size="15.5" textLength="27.2" lengthAdjust="spacingAndGlyphs">2.0</text>
<text class="ax2" x="268.3" y="415.0" font-size="15.5" textLength="27.2" lengthAdjust="spacingAndGlyphs">1.5</text>
<text class="ax2" x="268.3" y="491.7" font-size="15.5" textLength="27.2" lengthAdjust="spacingAndGlyphs">1.0</text>
<text class="ax2" x="268.3" y="568.4" font-size="15.5" textLength="27.2" lengthAdjust="spacingAndGlyphs">0.5</text>
<text class="ax2" x="268.3" y="640.1" font-size="15.5" textLength="27.2" lengthAdjust="spacingAndGlyphs">0.0</text>
<text class="ax2" x="301.9" y="665.2" font-size="16.6" text-anchor="middle">1</text>
<text class="ax2" x="446.1" y="665.2" font-size="16.6" text-anchor="middle">2</text>
<text class="ax2" x="590.4" y="665.2" font-size="16.6" text-anchor="middle">3</text>
<text class="ax2" x="734.6" y="665.2" font-size="16.6" text-anchor="middle">4</text>
<text class="ax2" x="461.5" y="686" font-size="17" textLength="114.5" lengthAdjust="spacing">Time [Hours]</text>
<text class="ax2" transform="translate(255,546.4) rotate(-90)" font-size="16.5" textLength="134" lengthAdjust="spacing">Normalized Units</text>
</g>
</svg>
</body>
</html>
